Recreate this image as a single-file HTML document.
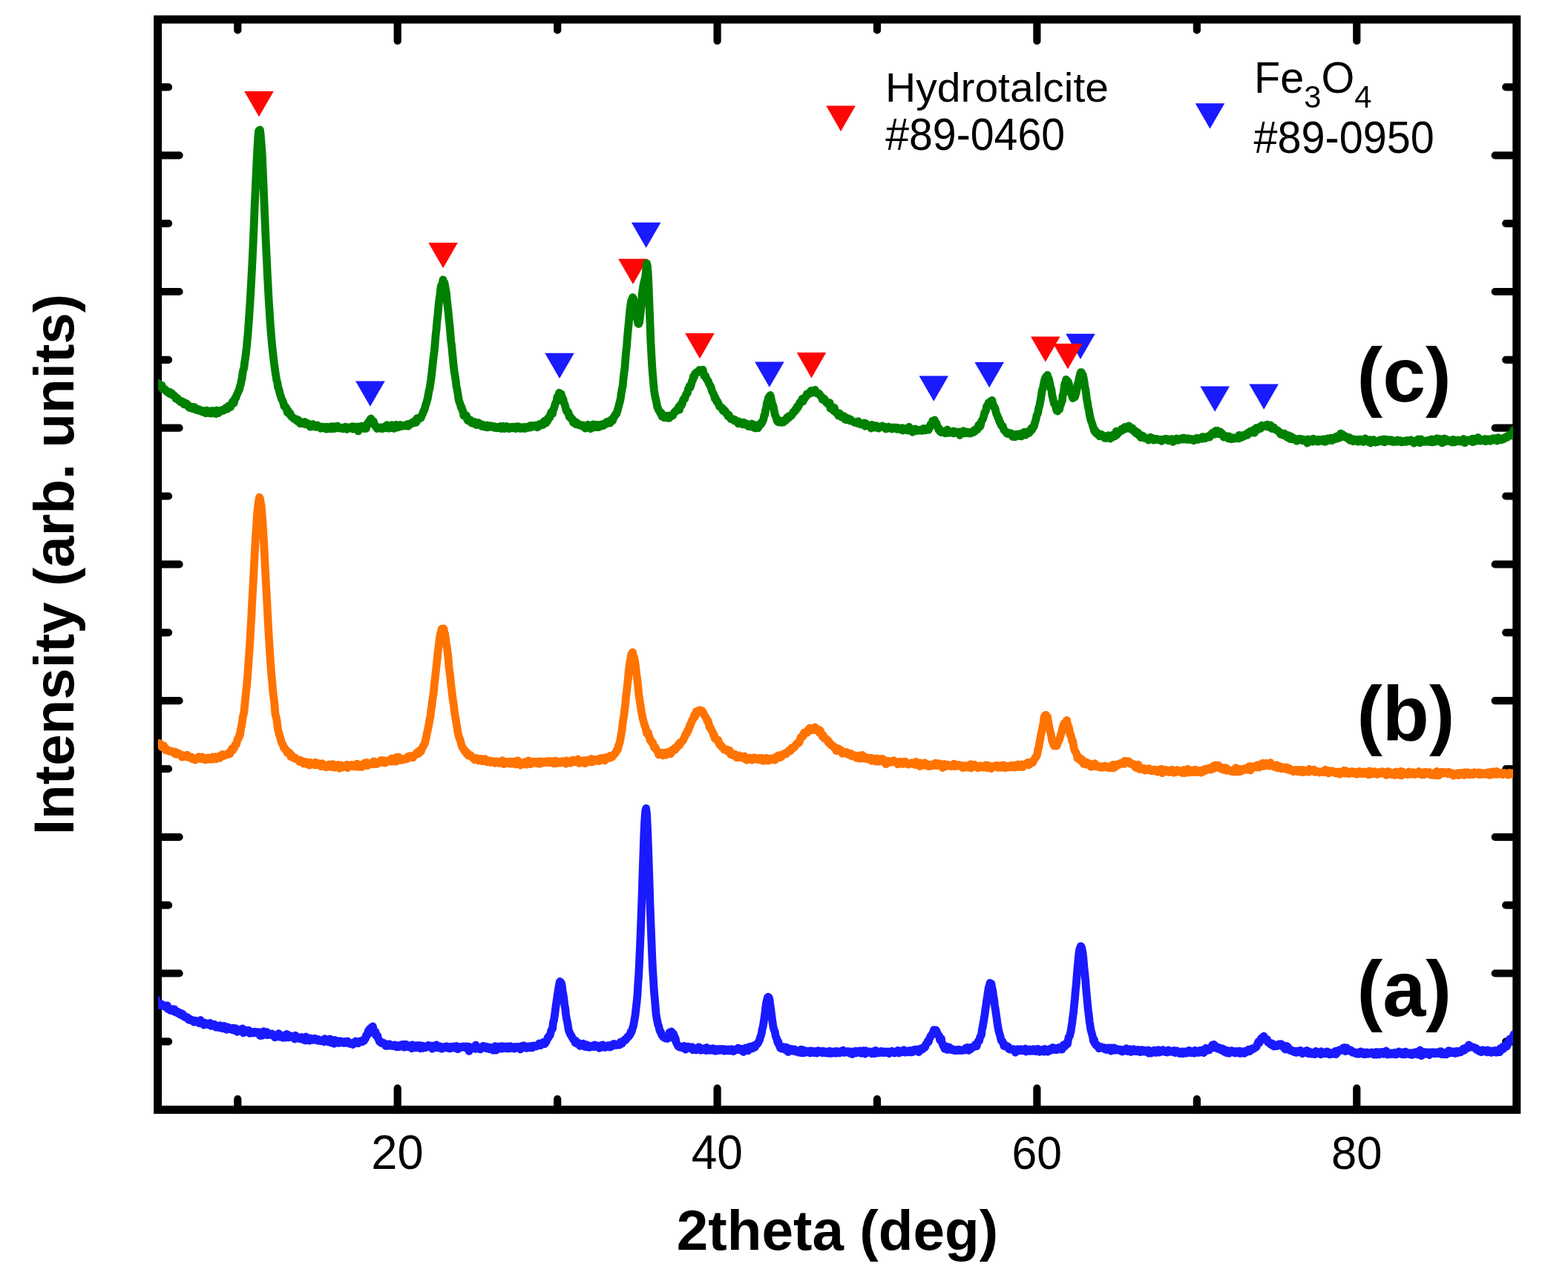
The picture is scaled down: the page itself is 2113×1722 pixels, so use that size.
<!DOCTYPE html><html><head><meta charset="utf-8"><title>XRD patterns</title><style>html,body{margin:0;padding:0;background:#fff;overflow:hidden}svg{display:block}text{font-family:"Liberation Sans",Arial,sans-serif}</style></head><body>
<svg width="2113" height="1722" viewBox="0 0 2113 1722">
<rect width="2113" height="1722" fill="#fff"/>
<polygon points="479.1,513.5 518.7,513.5 498.9,547.8" fill="#1a1aff"/>
<polygon points="734.2,475.7 773.8,475.7 754.0,510.0" fill="#1a1aff"/>
<polygon points="850.9,299.8 890.5,299.8 870.7,334.1" fill="#1a1aff"/>
<polygon points="1017.1,487.5 1056.7,487.5 1036.9,521.8" fill="#1a1aff"/>
<polygon points="1238.5,506.4 1278.1,506.4 1258.3,540.7" fill="#1a1aff"/>
<polygon points="1313.4,487.9 1353.0,487.9 1333.2,522.2" fill="#1a1aff"/>
<polygon points="1436.2,449.8 1475.8,449.8 1456.0,484.1" fill="#1a1aff"/>
<polygon points="1617.4,520.4 1657.0,520.4 1637.2,554.7" fill="#1a1aff"/>
<polygon points="1683.4,517.4 1723.0,517.4 1703.2,551.7" fill="#1a1aff"/>
<polygon points="329.2,123.0 368.8,123.0 349.0,157.3" fill="#ff0606"/>
<polygon points="577.3,326.9 616.9,326.9 597.1,361.2" fill="#ff0606"/>
<polygon points="833.2,348.8 872.8,348.8 853.0,383.1" fill="#ff0606"/>
<polygon points="923.2,448.9 962.8,448.9 943.0,483.2" fill="#ff0606"/>
<polygon points="1073.7,475.1 1113.3,475.1 1093.5,509.4" fill="#ff0606"/>
<polygon points="1389.0,453.5 1428.6,453.5 1408.8,487.8" fill="#ff0606"/>
<polygon points="1419.2,462.9 1458.8,462.9 1439.0,497.2" fill="#ff0606"/>
<rect x="212.6" y="26.2" width="1831.2" height="1469.1" fill="none" stroke="#000" stroke-width="11" stroke-linejoin="miter"/>
<path d="M320.3 1495.3V1480.8M320.3 26.2V40.7M535.7 1495.3V1466.3M535.7 26.2V55.2M751.2 1495.3V1480.8M751.2 26.2V40.7M966.6 1495.3V1466.3M966.6 26.2V55.2M1182.0 1495.3V1480.8M1182.0 26.2V40.7M1397.4 1495.3V1466.3M1397.4 26.2V55.2M1612.9 1495.3V1480.8M1612.9 26.2V40.7M1828.3 1495.3V1466.3M1828.3 26.2V55.2M212.6 117.4H227.1M2043.7 117.4H2029.2M212.6 209.3H241.6M2043.7 209.3H2014.7M212.6 301.1H227.1M2043.7 301.1H2029.2M212.6 393.0H241.6M2043.7 393.0H2014.7M212.6 484.8H227.1M2043.7 484.8H2029.2M212.6 576.7H241.6M2043.7 576.7H2014.7M212.6 668.5H227.1M2043.7 668.5H2029.2M212.6 760.4H241.6M2043.7 760.4H2014.7M212.6 852.3H227.1M2043.7 852.3H2029.2M212.6 944.1H241.6M2043.7 944.1H2014.7M212.6 1036.0H227.1M2043.7 1036.0H2029.2M212.6 1127.8H241.6M2043.7 1127.8H2014.7M212.6 1219.7H227.1M2043.7 1219.7H2029.2M212.6 1311.5H241.6M2043.7 1311.5H2014.7M212.6 1403.4H227.1M2043.7 1403.4H2029.2" stroke="#000" stroke-width="10.2" stroke-linecap="round" fill="none"/>
<defs><clipPath id="pc"><rect x="213" y="0" width="1826" height="1722"/></clipPath></defs>
<polyline fill="none" stroke="#008000" stroke-width="10.8" stroke-linejoin="round" stroke-linecap="butt" clip-path="url(#pc)" points="210.0,514.3 210.9,516.7 211.8,517.3 212.7,516.1 213.6,517.1 214.5,517.6 215.4,519.7 216.3,519.8 217.2,521.5 218.1,519.1 219.0,524.0 219.9,522.8 220.8,524.5 221.7,524.2 222.6,524.7 223.5,526.4 224.4,527.6 225.3,527.1 226.2,527.8 227.1,529.6 228.0,528.4 228.9,528.3 229.8,531.3 230.7,530.7 231.6,529.9 232.5,531.8 233.4,532.9 234.3,532.7 235.2,533.0 236.1,535.4 237.0,537.1 237.9,536.4 238.8,536.4 239.7,538.4 240.6,539.4 241.5,538.8 242.4,540.5 243.3,541.7 244.2,540.8 245.1,540.7 246.0,542.7 246.9,543.2 247.8,544.8 248.7,542.5 249.6,543.8 250.5,544.1 251.4,543.6 252.3,546.3 253.2,547.3 254.1,546.3 255.0,549.3 255.9,549.1 256.8,549.3 257.7,549.4 258.6,550.5 259.5,548.1 260.4,550.8 261.3,551.1 262.2,548.6 263.1,551.5 264.0,551.1 264.9,552.6 265.8,551.4 266.7,552.2 267.6,552.9 268.5,551.7 269.4,553.7 270.3,553.1 271.2,554.1 272.1,553.1 273.0,555.2 273.9,554.8 274.8,554.1 275.7,555.2 276.6,556.1 277.5,556.9 278.4,553.0 279.3,556.1 280.2,555.7 281.1,555.1 282.0,554.1 282.9,556.8 283.8,553.9 284.7,556.1 285.6,557.0 286.5,553.5 287.4,555.0 288.3,553.8 289.2,555.6 290.1,557.1 291.0,557.6 291.9,552.9 292.8,554.2 293.7,555.6 294.6,556.5 295.5,554.9 296.4,553.3 297.3,554.3 298.2,553.7 299.1,553.2 300.0,552.2 300.9,553.2 301.8,552.7 302.7,551.8 303.6,551.2 304.5,549.4 305.4,549.8 306.3,551.2 307.2,548.9 308.1,546.7 309.0,549.2 309.9,547.4 310.8,548.4 311.7,545.0 312.6,543.3 313.5,540.9 314.4,543.0 315.3,543.1 316.2,537.6 317.1,536.2 318.0,535.9 318.9,532.3 319.8,530.9 320.7,528.5 321.6,526.6 322.5,524.9 323.4,520.6 324.3,518.4 325.2,513.1 326.1,510.0 327.0,502.5 327.9,498.4 328.8,495.6 329.7,487.9 330.6,482.5 331.5,475.0 332.4,467.6 333.3,457.8 334.2,447.9 335.1,435.4 336.0,422.3 336.9,408.6 337.8,394.1 338.7,377.1 339.6,360.2 340.5,341.9 341.4,322.4 342.3,300.7 343.2,277.3 344.1,257.9 345.0,237.3 345.9,218.8 346.8,201.1 347.7,186.0 348.6,176.6 349.5,175.5 350.4,175.0 351.3,182.6 352.2,194.1 353.1,205.7 354.0,225.3 354.9,245.8 355.8,267.4 356.7,289.2 357.6,310.4 358.5,331.2 359.4,349.1 360.3,369.3 361.2,385.9 362.1,403.0 363.0,416.9 363.9,431.6 364.8,444.1 365.7,454.5 366.6,464.6 367.5,473.4 368.4,481.0 369.3,488.7 370.2,495.1 371.1,502.2 372.0,507.3 372.9,513.0 373.8,515.2 374.7,522.0 375.6,523.8 376.5,527.3 377.4,531.1 378.3,533.6 379.2,537.3 380.1,538.7 381.0,540.4 381.9,542.7 382.8,547.3 383.7,547.6 384.6,547.8 385.5,550.8 386.4,550.4 387.3,555.8 388.2,553.1 389.1,556.7 390.0,557.9 390.9,556.6 391.8,559.7 392.7,561.4 393.6,561.7 394.5,562.3 395.4,563.9 396.3,563.7 397.2,564.6 398.1,564.7 399.0,566.3 399.9,565.0 400.8,567.6 401.7,566.6 402.6,566.4 403.5,568.6 404.4,570.6 405.3,570.2 406.2,568.8 407.1,570.7 408.0,569.6 408.9,570.4 409.8,571.0 410.7,568.4 411.6,571.7 412.5,570.5 413.4,571.2 414.3,570.5 415.2,570.7 416.1,571.6 417.0,573.9 417.9,575.1 418.8,573.3 419.7,574.8 420.6,573.4 421.5,571.5 422.4,574.2 423.3,574.7 424.2,573.8 425.1,574.8 426.0,575.2 426.9,573.6 427.8,573.0 428.7,574.6 429.6,574.7 430.5,574.6 431.4,576.3 432.3,577.3 433.2,574.8 434.1,576.2 435.0,576.6 435.9,576.4 436.8,576.8 437.7,575.2 438.6,576.6 439.5,578.2 440.4,576.8 441.3,575.1 442.2,576.6 443.1,577.5 444.0,576.4 444.9,575.3 445.8,577.9 446.7,574.6 447.6,576.7 448.5,576.1 449.4,574.7 450.3,577.6 451.2,576.6 452.1,574.8 453.0,577.0 453.9,575.8 454.8,574.0 455.7,575.5 456.6,576.6 457.5,577.1 458.4,576.6 459.3,576.4 460.2,577.0 461.1,576.2 462.0,577.8 462.9,576.6 463.8,576.8 464.7,577.1 465.6,575.2 466.5,575.7 467.4,578.4 468.3,576.9 469.2,576.2 470.1,577.0 471.0,576.0 471.9,576.9 472.8,575.8 473.7,577.0 474.6,574.7 475.5,578.2 476.4,576.0 477.3,574.8 478.2,576.4 479.1,576.2 480.0,576.8 480.9,575.2 481.8,577.1 482.7,580.9 483.6,575.0 484.5,576.9 485.4,576.0 486.3,576.6 487.2,574.1 488.1,574.8 489.0,576.6 489.9,575.8 490.8,577.5 491.7,574.3 492.6,574.8 493.5,577.3 494.4,571.9 495.3,570.4 496.2,569.8 497.1,567.9 498.0,567.3 498.9,565.2 499.8,564.0 500.7,566.2 501.6,570.7 502.5,570.9 503.4,567.7 504.3,572.3 505.2,572.4 506.1,575.0 507.0,574.6 507.9,577.5 508.8,576.6 509.7,576.7 510.6,576.0 511.5,575.8 512.4,576.3 513.3,577.5 514.2,576.6 515.1,575.6 516.0,577.6 516.9,576.3 517.8,575.9 518.7,575.0 519.6,575.3 520.5,575.2 521.4,572.6 522.3,577.1 523.2,576.5 524.1,575.5 525.0,577.0 525.9,576.2 526.8,576.1 527.7,572.6 528.6,575.2 529.5,576.0 530.4,577.2 531.3,577.4 532.2,576.9 533.1,573.7 534.0,572.3 534.9,575.5 535.8,574.8 536.7,575.8 537.6,574.4 538.5,574.6 539.4,572.4 540.3,574.6 541.2,573.4 542.1,574.2 543.0,574.2 543.9,573.3 544.8,573.7 545.7,573.1 546.6,573.8 547.5,573.3 548.4,571.8 549.3,571.5 550.2,574.1 551.1,571.6 552.0,572.6 552.9,571.6 553.8,570.1 554.7,569.6 555.6,570.2 556.5,570.0 557.4,570.0 558.3,567.3 559.2,567.6 560.1,567.7 561.0,569.1 561.9,563.7 562.8,566.4 563.7,564.4 564.6,564.7 565.5,562.6 566.4,562.6 567.3,562.8 568.2,560.0 569.1,558.5 570.0,556.7 570.9,553.4 571.8,552.7 572.7,549.3 573.6,545.7 574.5,543.5 575.4,539.8 576.3,537.0 577.2,531.7 578.1,526.4 579.0,523.5 579.9,517.2 580.8,511.3 581.7,503.8 582.6,495.7 583.5,487.6 584.4,479.6 585.3,472.6 586.2,462.7 587.1,451.6 588.0,444.1 588.9,433.0 589.8,425.7 590.7,415.0 591.6,406.4 592.5,400.2 593.4,393.0 594.3,385.3 595.2,383.8 596.1,382.6 597.0,377.0 597.9,381.5 598.8,380.7 599.7,384.8 600.6,390.4 601.5,395.4 602.4,406.2 603.3,413.6 604.2,420.9 605.1,430.7 606.0,438.5 606.9,449.3 607.8,460.0 608.7,465.9 609.6,476.1 610.5,485.1 611.4,494.0 612.3,501.8 613.2,506.5 614.1,512.6 615.0,520.0 615.9,524.5 616.8,529.5 617.7,535.7 618.6,540.5 619.5,542.5 620.4,545.2 621.3,549.1 622.2,548.8 623.1,553.3 624.0,554.1 624.9,560.1 625.8,559.8 626.7,560.5 627.6,561.4 628.5,559.7 629.4,564.6 630.3,566.6 631.2,564.6 632.1,567.1 633.0,567.8 633.9,565.7 634.8,569.2 635.7,570.2 636.6,569.3 637.5,569.4 638.4,570.8 639.3,568.4 640.2,570.7 641.1,572.2 642.0,569.7 642.9,572.7 643.8,571.3 644.7,569.5 645.6,572.1 646.5,571.3 647.4,573.1 648.3,571.5 649.2,574.4 650.1,572.4 651.0,573.9 651.9,572.9 652.8,573.4 653.7,575.4 654.6,574.3 655.5,573.7 656.4,572.8 657.3,575.9 658.2,575.5 659.1,574.3 660.0,575.1 660.9,573.7 661.8,573.8 662.7,574.1 663.6,575.6 664.5,575.6 665.4,574.4 666.3,576.3 667.2,576.4 668.1,575.7 669.0,576.8 669.9,575.3 670.8,575.6 671.7,576.3 672.6,575.8 673.5,576.8 674.4,574.4 675.3,577.6 676.2,575.0 677.1,575.8 678.0,574.4 678.9,576.8 679.8,577.6 680.7,577.4 681.6,577.1 682.5,574.3 683.4,575.2 684.3,575.6 685.2,575.1 686.1,577.6 687.0,576.5 687.9,576.2 688.8,576.8 689.7,575.1 690.6,575.2 691.5,575.2 692.4,576.9 693.3,576.7 694.2,577.0 695.1,577.5 696.0,574.6 696.9,575.6 697.8,576.4 698.7,574.6 699.6,575.6 700.5,577.4 701.4,577.5 702.3,577.4 703.2,576.1 704.1,575.8 705.0,577.3 705.9,575.5 706.8,576.3 707.7,577.5 708.6,575.4 709.5,575.1 710.4,575.7 711.3,576.4 712.2,576.2 713.1,575.7 714.0,576.1 714.9,573.4 715.8,574.2 716.7,575.3 717.6,573.9 718.5,573.3 719.4,573.3 720.3,573.5 721.2,574.2 722.1,573.0 723.0,574.3 723.9,575.9 724.8,573.4 725.7,574.9 726.6,573.4 727.5,571.4 728.4,572.1 729.3,570.9 730.2,572.6 731.1,569.8 732.0,572.3 732.9,570.9 733.8,567.2 734.7,569.9 735.6,570.1 736.5,566.5 737.4,567.8 738.3,563.4 739.2,564.8 740.1,561.3 741.0,562.5 741.9,558.2 742.8,555.5 743.7,557.3 744.6,557.5 745.5,551.7 746.4,551.0 747.3,547.5 748.2,544.2 749.1,542.5 750.0,540.9 750.9,534.9 751.8,534.7 752.7,532.6 753.6,529.2 754.5,532.4 755.4,533.1 756.3,530.7 757.2,535.7 758.1,535.9 759.0,538.2 759.9,543.0 760.8,544.3 761.7,547.2 762.6,551.4 763.5,553.6 764.4,555.4 765.3,554.8 766.2,556.5 767.1,561.5 768.0,560.6 768.9,563.3 769.8,563.1 770.7,565.3 771.6,565.0 772.5,569.4 773.4,567.0 774.3,568.8 775.2,569.4 776.1,571.7 777.0,569.1 777.9,571.2 778.8,571.4 779.7,572.7 780.6,573.0 781.5,572.2 782.4,573.3 783.3,572.9 784.2,574.1 785.1,573.6 786.0,573.1 786.9,574.1 787.8,574.7 788.7,577.1 789.6,573.9 790.5,574.9 791.4,576.4 792.3,572.2 793.2,572.7 794.1,573.4 795.0,574.7 795.9,577.7 796.8,575.3 797.7,576.2 798.6,574.5 799.5,571.8 800.4,571.9 801.3,575.8 802.2,574.7 803.1,572.9 804.0,575.7 804.9,572.3 805.8,575.4 806.7,575.7 807.6,572.9 808.5,572.3 809.4,574.4 810.3,571.9 811.2,574.0 812.1,571.3 813.0,573.5 813.9,572.3 814.8,571.4 815.7,570.5 816.6,571.5 817.5,568.5 818.4,570.0 819.3,569.4 820.2,570.2 821.1,567.3 822.0,570.2 822.9,567.1 823.8,565.3 824.7,567.4 825.6,566.8 826.5,563.5 827.4,561.4 828.3,561.1 829.2,558.6 830.1,557.2 831.0,557.4 831.9,553.6 832.8,550.6 833.7,547.7 834.6,543.6 835.5,540.7 836.4,536.1 837.3,529.5 838.2,524.3 839.1,520.7 840.0,511.3 840.9,502.8 841.8,497.2 842.7,485.7 843.6,474.9 844.5,467.0 845.4,454.9 846.3,445.1 847.2,436.0 848.1,426.0 849.0,416.8 849.9,410.0 850.8,404.7 851.7,403.8 852.6,400.7 853.5,402.2 854.4,408.6 855.3,410.2 856.2,418.3 857.1,424.1 858.0,427.9 858.9,430.9 859.8,435.8 860.7,436.4 861.6,434.2 862.5,427.4 863.4,420.2 864.3,409.8 865.2,396.2 866.1,390.7 867.0,384.2 867.9,380.3 868.8,376.8 869.7,373.1 870.6,364.2 871.5,354.9 872.4,358.1 873.3,368.6 874.2,388.2 875.1,411.9 876.0,435.3 876.9,460.2 877.8,476.9 878.7,493.0 879.6,505.2 880.5,515.2 881.4,525.1 882.3,531.4 883.2,535.6 884.1,539.7 885.0,544.0 885.9,548.9 886.8,550.5 887.7,552.8 888.6,554.0 889.5,555.7 890.4,557.6 891.3,556.2 892.2,561.3 893.1,559.1 894.0,560.0 894.9,562.8 895.8,561.8 896.7,561.9 897.6,561.3 898.5,560.2 899.4,562.2 900.3,563.4 901.2,560.7 902.1,563.1 903.0,559.8 903.9,559.9 904.8,560.9 905.7,559.7 906.6,560.0 907.5,557.6 908.4,556.5 909.3,554.6 910.2,554.5 911.1,553.7 912.0,552.3 912.9,553.3 913.8,550.9 914.7,548.1 915.6,552.2 916.5,546.8 917.4,544.8 918.3,546.3 919.2,544.6 920.1,540.2 921.0,538.1 921.9,536.8 922.8,537.5 923.7,533.9 924.6,531.3 925.5,530.2 926.4,529.6 927.3,524.4 928.2,523.5 929.1,520.2 930.0,522.3 930.9,519.7 931.8,516.6 932.7,513.2 933.6,512.2 934.5,507.0 935.4,508.0 936.3,504.4 937.2,502.9 938.1,502.3 939.0,501.5 939.9,501.7 940.8,501.1 941.7,500.0 942.6,498.3 943.5,500.2 944.4,499.4 945.3,501.4 946.2,499.5 947.1,498.2 948.0,502.0 948.9,506.4 949.8,505.8 950.7,506.6 951.6,509.6 952.5,510.9 953.4,512.8 954.3,513.6 955.2,516.3 956.1,518.4 957.0,519.5 957.9,521.0 958.8,524.5 959.7,527.5 960.6,529.1 961.5,530.9 962.4,532.8 963.3,537.2 964.2,536.2 965.1,538.9 966.0,541.7 966.9,541.1 967.8,542.9 968.7,545.4 969.6,547.6 970.5,547.4 971.4,548.8 972.3,549.8 973.2,549.5 974.1,553.4 975.0,552.9 975.9,552.3 976.8,555.2 977.7,554.3 978.6,556.1 979.5,558.2 980.4,557.9 981.3,561.1 982.2,558.9 983.1,561.7 984.0,562.7 984.9,564.5 985.8,564.5 986.7,564.3 987.6,564.7 988.5,565.1 989.4,567.0 990.3,565.4 991.2,567.3 992.1,567.0 993.0,567.8 993.9,567.7 994.8,570.9 995.7,568.0 996.6,569.4 997.5,569.8 998.4,570.6 999.3,570.7 1000.2,571.0 1001.1,571.9 1002.0,569.2 1002.9,571.3 1003.8,570.1 1004.7,572.1 1005.6,570.6 1006.5,571.1 1007.4,572.4 1008.3,574.4 1009.2,573.6 1010.1,573.4 1011.0,574.9 1011.9,572.2 1012.8,571.0 1013.7,573.1 1014.6,573.4 1015.5,575.3 1016.4,576.5 1017.3,572.4 1018.2,577.0 1019.1,575.9 1020.0,575.0 1020.9,574.3 1021.8,576.6 1022.7,573.5 1023.6,572.4 1024.5,572.5 1025.4,569.8 1026.3,570.8 1027.2,568.5 1028.1,566.9 1029.0,564.3 1029.9,559.5 1030.8,558.7 1031.7,551.9 1032.6,549.9 1033.5,542.7 1034.4,541.1 1035.3,536.5 1036.2,535.3 1037.1,533.7 1038.0,532.5 1038.9,535.7 1039.8,540.2 1040.7,544.6 1041.6,546.0 1042.5,549.2 1043.4,554.5 1044.3,558.6 1045.2,560.9 1046.1,563.0 1047.0,566.8 1047.9,568.2 1048.8,568.8 1049.7,567.4 1050.6,568.8 1051.5,568.5 1052.4,566.9 1053.3,569.4 1054.2,568.1 1055.1,567.0 1056.0,568.8 1056.9,567.5 1057.8,567.0 1058.7,566.8 1059.6,565.5 1060.5,562.5 1061.4,562.8 1062.3,563.6 1063.2,560.7 1064.1,560.8 1065.0,560.3 1065.9,560.6 1066.8,559.5 1067.7,558.0 1068.6,555.7 1069.5,555.9 1070.4,554.4 1071.3,552.4 1072.2,553.1 1073.1,550.9 1074.0,548.2 1074.9,549.5 1075.8,546.4 1076.7,546.2 1077.6,542.5 1078.5,543.1 1079.4,540.8 1080.3,539.5 1081.2,537.2 1082.1,540.9 1083.0,537.1 1083.9,536.5 1084.8,536.5 1085.7,534.0 1086.6,533.8 1087.5,530.7 1088.4,531.8 1089.3,530.3 1090.2,530.8 1091.1,529.8 1092.0,527.5 1092.9,526.5 1093.8,527.3 1094.7,529.2 1095.6,528.7 1096.5,528.7 1097.4,525.9 1098.3,525.3 1099.2,528.1 1100.1,528.9 1101.0,529.0 1101.9,530.7 1102.8,530.7 1103.7,530.2 1104.6,531.3 1105.5,533.3 1106.4,534.1 1107.3,534.8 1108.2,538.5 1109.1,536.4 1110.0,537.8 1110.9,537.4 1111.8,539.2 1112.7,541.3 1113.6,542.3 1114.5,542.4 1115.4,544.1 1116.3,544.7 1117.2,543.3 1118.1,542.6 1119.0,550.3 1119.9,549.4 1120.8,549.3 1121.7,548.2 1122.6,549.6 1123.5,553.6 1124.4,549.5 1125.3,553.2 1126.2,555.5 1127.1,555.4 1128.0,556.8 1128.9,556.5 1129.8,560.2 1130.7,556.8 1131.6,557.1 1132.5,559.6 1133.4,561.6 1134.3,560.5 1135.2,562.3 1136.1,561.0 1137.0,560.7 1137.9,564.3 1138.8,565.0 1139.7,565.5 1140.6,563.6 1141.5,563.1 1142.4,563.6 1143.3,565.1 1144.2,566.5 1145.1,566.8 1146.0,564.8 1146.9,567.1 1147.8,567.2 1148.7,567.7 1149.6,567.9 1150.5,568.0 1151.4,569.2 1152.3,569.0 1153.2,569.4 1154.1,568.6 1155.0,570.1 1155.9,569.7 1156.8,567.6 1157.7,571.0 1158.6,570.3 1159.5,571.9 1160.4,570.8 1161.3,571.1 1162.2,571.7 1163.1,571.6 1164.0,571.3 1164.9,569.8 1165.8,574.3 1166.7,570.4 1167.6,572.1 1168.5,573.4 1169.4,573.2 1170.3,573.6 1171.2,574.0 1172.1,574.7 1173.0,573.7 1173.9,577.0 1174.8,572.4 1175.7,574.0 1176.6,573.4 1177.5,573.3 1178.4,574.5 1179.3,576.0 1180.2,573.5 1181.1,573.6 1182.0,575.5 1182.9,575.4 1183.8,577.2 1184.7,576.2 1185.6,575.3 1186.5,574.8 1187.4,575.5 1188.3,575.2 1189.2,573.8 1190.1,575.6 1191.0,575.5 1191.9,575.5 1192.8,575.4 1193.7,578.0 1194.6,576.9 1195.5,577.3 1196.4,575.5 1197.3,575.1 1198.2,576.1 1199.1,576.8 1200.0,576.2 1200.9,576.5 1201.8,578.0 1202.7,577.3 1203.6,575.8 1204.5,576.6 1205.4,576.4 1206.3,577.5 1207.2,576.0 1208.1,577.3 1209.0,578.4 1209.9,577.7 1210.8,576.6 1211.7,577.1 1212.6,578.0 1213.5,578.6 1214.4,579.1 1215.3,578.0 1216.2,576.6 1217.1,580.0 1218.0,578.7 1218.9,578.9 1219.8,578.9 1220.7,577.4 1221.6,578.3 1222.5,579.1 1223.4,580.1 1224.3,579.0 1225.2,575.2 1226.1,578.8 1227.0,579.5 1227.9,580.7 1228.8,580.1 1229.7,582.3 1230.6,581.1 1231.5,581.0 1232.4,580.6 1233.3,577.9 1234.2,580.6 1235.1,580.3 1236.0,579.0 1236.9,580.4 1237.8,580.2 1238.7,579.2 1239.6,579.6 1240.5,579.5 1241.4,580.1 1242.3,579.3 1243.2,580.4 1244.1,577.4 1245.0,579.3 1245.9,577.5 1246.8,578.8 1247.7,579.8 1248.6,579.0 1249.5,578.4 1250.4,578.1 1251.3,579.2 1252.2,575.0 1253.1,576.2 1254.0,571.8 1254.9,571.3 1255.8,570.2 1256.7,567.2 1257.6,567.2 1258.5,567.5 1259.4,566.0 1260.3,568.9 1261.2,570.5 1262.1,570.6 1263.0,574.5 1263.9,575.3 1264.8,579.1 1265.7,577.5 1266.6,581.4 1267.5,579.3 1268.4,582.7 1269.3,581.4 1270.2,581.6 1271.1,582.3 1272.0,582.6 1272.9,583.4 1273.8,583.9 1274.7,581.6 1275.6,580.6 1276.5,579.0 1277.4,581.9 1278.3,583.3 1279.2,583.0 1280.1,582.8 1281.0,582.3 1281.9,582.0 1282.8,582.5 1283.7,583.4 1284.6,580.9 1285.5,583.9 1286.4,581.4 1287.3,583.0 1288.2,582.5 1289.1,582.8 1290.0,582.1 1290.9,582.0 1291.8,583.1 1292.7,582.1 1293.6,586.4 1294.5,583.0 1295.4,582.7 1296.3,582.9 1297.2,582.3 1298.1,580.6 1299.0,583.2 1299.9,583.9 1300.8,581.7 1301.7,583.5 1302.6,582.0 1303.5,583.4 1304.4,583.8 1305.3,583.8 1306.2,583.7 1307.1,582.2 1308.0,583.9 1308.9,582.1 1309.8,582.8 1310.7,582.9 1311.6,581.4 1312.5,579.8 1313.4,581.6 1314.3,578.9 1315.2,578.4 1316.1,577.4 1317.0,578.7 1317.9,576.4 1318.8,572.7 1319.7,574.9 1320.6,574.9 1321.5,572.8 1322.4,568.0 1323.3,566.7 1324.2,565.0 1325.1,563.0 1326.0,559.5 1326.9,555.5 1327.8,555.1 1328.7,552.3 1329.6,547.4 1330.5,546.2 1331.4,544.8 1332.3,542.6 1333.2,541.9 1334.1,541.3 1335.0,540.7 1335.9,540.1 1336.8,539.4 1337.7,543.1 1338.6,545.9 1339.5,548.7 1340.4,548.7 1341.3,551.3 1342.2,555.8 1343.1,558.5 1344.0,559.9 1344.9,563.0 1345.8,563.8 1346.7,567.8 1347.6,568.4 1348.5,571.3 1349.4,573.2 1350.3,574.5 1351.2,574.1 1352.1,577.1 1353.0,579.7 1353.9,580.3 1354.8,580.9 1355.7,582.7 1356.6,583.7 1357.5,584.5 1358.4,583.0 1359.3,584.5 1360.2,584.4 1361.1,584.1 1362.0,583.6 1362.9,585.5 1363.8,584.7 1364.7,588.5 1365.6,586.0 1366.5,585.9 1367.4,585.8 1368.3,588.6 1369.2,585.2 1370.1,586.2 1371.0,585.4 1371.9,586.2 1372.8,586.3 1373.7,587.6 1374.6,584.5 1375.5,586.1 1376.4,587.9 1377.3,585.2 1378.2,585.5 1379.1,584.5 1380.0,582.2 1380.9,584.9 1381.8,586.2 1382.7,583.9 1383.6,581.9 1384.5,584.0 1385.4,583.2 1386.3,583.7 1387.2,582.9 1388.1,580.7 1389.0,580.6 1389.9,576.8 1390.8,579.0 1391.7,576.4 1392.6,575.8 1393.5,573.9 1394.4,570.0 1395.3,567.7 1396.2,564.1 1397.1,559.5 1398.0,558.4 1398.9,555.1 1399.8,549.6 1400.7,547.4 1401.6,542.2 1402.5,537.9 1403.4,531.7 1404.3,525.7 1405.2,524.1 1406.1,519.6 1407.0,514.8 1407.9,511.2 1408.8,508.9 1409.7,507.5 1410.6,506.6 1411.5,505.4 1412.4,510.4 1413.3,510.1 1414.2,514.7 1415.1,518.4 1416.0,523.1 1416.9,525.0 1417.8,532.6 1418.7,536.0 1419.6,540.0 1420.5,544.0 1421.4,544.7 1422.3,544.5 1423.2,550.7 1424.1,553.4 1425.0,554.1 1425.9,552.2 1426.8,552.2 1427.7,551.4 1428.6,546.8 1429.5,545.4 1430.4,541.9 1431.3,540.3 1432.2,532.9 1433.1,530.4 1434.0,523.5 1434.9,516.7 1435.8,517.6 1436.7,511.3 1437.6,512.4 1438.5,514.7 1439.4,514.5 1440.3,517.1 1441.2,523.7 1442.1,526.3 1443.0,528.3 1443.9,531.2 1444.8,534.0 1445.7,536.7 1446.6,535.3 1447.5,535.6 1448.4,535.1 1449.3,532.1 1450.2,529.1 1451.1,525.1 1452.0,517.7 1452.9,516.9 1453.8,511.8 1454.7,507.8 1455.6,503.9 1456.5,501.6 1457.4,501.7 1458.3,504.0 1459.2,505.0 1460.1,509.0 1461.0,513.7 1461.9,520.5 1462.8,525.0 1463.7,531.0 1464.6,538.6 1465.5,542.3 1466.4,548.8 1467.3,551.9 1468.2,558.2 1469.1,562.2 1470.0,566.0 1470.9,568.6 1471.8,570.9 1472.7,574.4 1473.6,576.4 1474.5,580.1 1475.4,581.6 1476.3,580.4 1477.2,583.8 1478.1,583.4 1479.0,585.4 1479.9,584.9 1480.8,584.3 1481.7,587.8 1482.6,587.6 1483.5,585.9 1484.4,585.4 1485.3,587.3 1486.2,586.8 1487.1,587.9 1488.0,589.2 1488.9,590.4 1489.8,588.2 1490.7,590.4 1491.6,590.1 1492.5,588.2 1493.4,586.6 1494.3,589.5 1495.2,589.1 1496.1,591.0 1497.0,589.7 1497.9,588.7 1498.8,589.5 1499.7,585.9 1500.6,587.0 1501.5,586.0 1502.4,587.9 1503.3,586.0 1504.2,581.1 1505.1,585.8 1506.0,582.5 1506.9,583.8 1507.8,581.6 1508.7,581.7 1509.6,581.5 1510.5,580.2 1511.4,578.0 1512.3,580.1 1513.2,578.2 1514.1,577.0 1515.0,577.3 1515.9,575.3 1516.8,577.8 1517.7,575.5 1518.6,575.5 1519.5,575.4 1520.4,574.0 1521.3,573.9 1522.2,575.9 1523.1,576.6 1524.0,578.4 1524.9,577.9 1525.8,576.8 1526.7,579.5 1527.6,580.6 1528.5,581.7 1529.4,581.7 1530.3,580.6 1531.2,584.2 1532.1,582.7 1533.0,585.0 1533.9,583.1 1534.8,586.5 1535.7,585.3 1536.6,588.1 1537.5,589.5 1538.4,589.2 1539.3,586.9 1540.2,587.6 1541.1,588.0 1542.0,590.2 1542.9,590.2 1543.8,590.2 1544.7,590.7 1545.6,591.2 1546.5,591.5 1547.4,593.0 1548.3,591.0 1549.2,591.5 1550.1,589.1 1551.0,589.9 1551.9,590.8 1552.8,590.3 1553.7,592.0 1554.6,593.1 1555.5,591.4 1556.4,591.4 1557.3,591.4 1558.2,592.2 1559.1,591.4 1560.0,592.6 1560.9,592.5 1561.8,592.6 1562.7,593.1 1563.6,592.2 1564.5,592.4 1565.4,594.4 1566.3,592.2 1567.2,593.2 1568.1,592.3 1569.0,591.7 1569.9,591.7 1570.8,591.3 1571.7,592.3 1572.6,591.6 1573.5,591.8 1574.4,593.8 1575.3,592.1 1576.2,593.7 1577.1,592.6 1578.0,593.3 1578.9,591.5 1579.8,592.5 1580.7,595.4 1581.6,593.3 1582.5,593.5 1583.4,592.5 1584.3,593.3 1585.2,590.8 1586.1,591.2 1587.0,592.7 1587.9,593.2 1588.8,591.7 1589.7,592.0 1590.6,591.7 1591.5,591.9 1592.4,590.7 1593.3,590.4 1594.2,592.0 1595.1,590.0 1596.0,590.9 1596.9,591.3 1597.8,590.8 1598.7,592.4 1599.6,591.5 1600.5,591.9 1601.4,590.8 1602.3,591.1 1603.2,592.6 1604.1,592.4 1605.0,591.4 1605.9,592.4 1606.8,592.1 1607.7,592.0 1608.6,593.7 1609.5,591.3 1610.4,592.2 1611.3,592.2 1612.2,591.4 1613.1,590.2 1614.0,592.4 1614.9,591.8 1615.8,591.4 1616.7,591.3 1617.6,591.2 1618.5,590.0 1619.4,591.3 1620.3,588.6 1621.2,590.6 1622.1,588.6 1623.0,589.8 1623.9,590.8 1624.8,589.3 1625.7,588.8 1626.6,589.6 1627.5,588.3 1628.4,587.7 1629.3,587.2 1630.2,589.0 1631.1,587.5 1632.0,586.7 1632.9,584.1 1633.8,585.6 1634.7,582.7 1635.6,584.3 1636.5,581.9 1637.4,585.1 1638.3,580.4 1639.2,583.8 1640.1,583.2 1641.0,580.3 1641.9,582.4 1642.8,584.8 1643.7,584.9 1644.6,582.0 1645.5,584.0 1646.4,583.7 1647.3,584.5 1648.2,585.5 1649.1,589.0 1650.0,587.4 1650.9,587.4 1651.8,587.6 1652.7,589.1 1653.6,589.5 1654.5,587.8 1655.4,590.9 1656.3,588.0 1657.2,589.1 1658.1,590.1 1659.0,591.7 1659.9,589.3 1660.8,590.0 1661.7,591.3 1662.6,590.4 1663.5,591.0 1664.4,590.8 1665.3,589.8 1666.2,590.1 1667.1,590.3 1668.0,589.0 1668.9,590.8 1669.8,586.3 1670.7,587.4 1671.6,590.0 1672.5,588.6 1673.4,587.0 1674.3,588.0 1675.2,588.5 1676.1,586.2 1677.0,587.5 1677.9,586.1 1678.8,585.7 1679.7,585.4 1680.6,586.4 1681.5,583.3 1682.4,583.7 1683.3,584.5 1684.2,581.8 1685.1,580.9 1686.0,583.0 1686.9,581.8 1687.8,581.1 1688.7,580.9 1689.6,579.0 1690.5,583.2 1691.4,578.0 1692.3,578.1 1693.2,576.4 1694.1,577.1 1695.0,578.9 1695.9,576.6 1696.8,576.9 1697.7,575.1 1698.6,577.5 1699.5,575.2 1700.4,573.1 1701.3,575.3 1702.2,573.7 1703.1,574.7 1704.0,574.0 1704.9,574.1 1705.8,573.9 1706.7,572.7 1707.6,572.1 1708.5,575.2 1709.4,574.1 1710.3,574.9 1711.2,574.3 1712.1,572.8 1713.0,574.1 1713.9,577.7 1714.8,575.6 1715.7,576.6 1716.6,575.8 1717.5,577.4 1718.4,578.2 1719.3,578.9 1720.2,579.7 1721.1,579.6 1722.0,580.2 1722.9,581.4 1723.8,582.4 1724.7,582.4 1725.6,585.2 1726.5,583.9 1727.4,584.3 1728.3,583.9 1729.2,586.4 1730.1,584.4 1731.0,584.2 1731.9,585.4 1732.8,587.7 1733.7,586.0 1734.6,589.3 1735.5,588.1 1736.4,586.7 1737.3,588.6 1738.2,591.3 1739.1,588.5 1740.0,588.2 1740.9,590.7 1741.8,591.9 1742.7,591.8 1743.6,590.4 1744.5,591.3 1745.4,591.6 1746.3,592.8 1747.2,594.2 1748.1,591.7 1749.0,593.5 1749.9,591.7 1750.8,592.9 1751.7,591.2 1752.6,591.6 1753.5,593.1 1754.4,591.6 1755.3,593.8 1756.2,592.2 1757.1,593.0 1758.0,592.9 1758.9,592.7 1759.8,593.3 1760.7,594.5 1761.6,597.0 1762.5,591.9 1763.4,593.7 1764.3,593.2 1765.2,592.3 1766.1,593.8 1767.0,592.4 1767.9,593.4 1768.8,595.0 1769.7,591.1 1770.6,593.9 1771.5,594.1 1772.4,592.5 1773.3,594.3 1774.2,594.1 1775.1,593.2 1776.0,595.1 1776.9,592.1 1777.8,594.4 1778.7,593.4 1779.6,592.4 1780.5,593.4 1781.4,593.2 1782.3,594.5 1783.2,591.7 1784.1,593.3 1785.0,592.9 1785.9,595.3 1786.8,592.0 1787.7,594.5 1788.6,591.0 1789.5,593.5 1790.4,592.8 1791.3,593.2 1792.2,591.7 1793.1,590.1 1794.0,590.3 1794.9,593.5 1795.8,591.9 1796.7,590.3 1797.6,592.1 1798.5,589.7 1799.4,589.3 1800.3,588.3 1801.2,590.7 1802.1,591.2 1803.0,587.3 1803.9,588.3 1804.8,588.8 1805.7,589.8 1806.6,584.2 1807.5,587.1 1808.4,587.7 1809.3,585.3 1810.2,587.8 1811.1,587.8 1812.0,588.8 1812.9,587.7 1813.8,589.3 1814.7,588.6 1815.6,590.5 1816.5,590.4 1817.4,590.1 1818.3,589.3 1819.2,593.3 1820.1,593.0 1821.0,593.0 1821.9,591.4 1822.8,592.0 1823.7,594.7 1824.6,593.8 1825.5,592.0 1826.4,593.2 1827.3,593.5 1828.2,593.2 1829.1,592.4 1830.0,595.1 1830.9,594.3 1831.8,593.5 1832.7,591.9 1833.6,593.1 1834.5,593.8 1835.4,594.9 1836.3,593.5 1837.2,595.3 1838.1,594.1 1839.0,593.1 1839.9,590.7 1840.8,592.6 1841.7,592.3 1842.6,593.9 1843.5,594.5 1844.4,595.8 1845.3,594.1 1846.2,592.7 1847.1,597.0 1848.0,594.5 1848.9,593.8 1849.8,593.8 1850.7,592.5 1851.6,594.9 1852.5,594.6 1853.4,596.1 1854.3,595.5 1855.2,595.2 1856.1,595.7 1857.0,593.9 1857.9,593.7 1858.8,594.1 1859.7,592.7 1860.6,594.0 1861.5,593.8 1862.4,595.0 1863.3,594.2 1864.2,591.9 1865.1,594.3 1866.0,595.9 1866.9,592.0 1867.8,593.3 1868.7,594.2 1869.6,592.6 1870.5,593.6 1871.4,594.3 1872.3,592.6 1873.2,594.6 1874.1,594.7 1875.0,592.7 1875.9,594.2 1876.8,595.5 1877.7,594.0 1878.6,594.7 1879.5,595.0 1880.4,593.9 1881.3,595.4 1882.2,594.6 1883.1,593.0 1884.0,594.8 1884.9,595.2 1885.8,595.1 1886.7,593.4 1887.6,594.7 1888.5,595.8 1889.4,594.4 1890.3,595.6 1891.2,595.7 1892.1,594.1 1893.0,594.9 1893.9,593.8 1894.8,595.4 1895.7,594.0 1896.6,593.5 1897.5,594.1 1898.4,594.0 1899.3,594.6 1900.2,594.7 1901.1,592.7 1902.0,593.3 1902.9,594.5 1903.8,594.7 1904.7,594.2 1905.6,597.2 1906.5,595.4 1907.4,594.0 1908.3,594.9 1909.2,595.7 1910.1,594.5 1911.0,591.9 1911.9,594.2 1912.8,594.1 1913.7,596.6 1914.6,591.8 1915.5,595.9 1916.4,593.8 1917.3,595.1 1918.2,593.6 1919.1,594.2 1920.0,595.3 1920.9,594.1 1921.8,595.2 1922.7,593.9 1923.6,593.5 1924.5,593.7 1925.4,593.3 1926.3,593.8 1927.2,595.6 1928.1,592.5 1929.0,591.9 1929.9,593.9 1930.8,595.9 1931.7,595.1 1932.6,595.5 1933.5,595.4 1934.4,593.0 1935.3,594.0 1936.2,590.6 1937.1,593.1 1938.0,594.5 1938.9,591.9 1939.8,591.3 1940.7,592.2 1941.6,594.0 1942.5,595.2 1943.4,596.9 1944.3,595.5 1945.2,591.9 1946.1,590.9 1947.0,593.9 1947.9,595.0 1948.8,591.8 1949.7,593.1 1950.6,593.1 1951.5,593.7 1952.4,593.5 1953.3,594.3 1954.2,594.9 1955.1,593.7 1956.0,594.5 1956.9,596.0 1957.8,592.4 1958.7,592.3 1959.6,594.2 1960.5,595.8 1961.4,593.8 1962.3,594.9 1963.2,593.2 1964.1,594.6 1965.0,592.8 1965.9,594.3 1966.8,594.0 1967.7,594.0 1968.6,595.1 1969.5,594.7 1970.4,592.7 1971.3,594.5 1972.2,591.4 1973.1,594.6 1974.0,596.7 1974.9,594.0 1975.8,594.0 1976.7,593.4 1977.6,594.3 1978.5,592.8 1979.4,594.1 1980.3,593.0 1981.2,592.8 1982.1,593.4 1983.0,593.2 1983.9,591.2 1984.8,595.7 1985.7,593.4 1986.6,591.1 1987.5,594.5 1988.4,593.1 1989.3,593.4 1990.2,594.0 1991.1,592.0 1992.0,589.5 1992.9,592.9 1993.8,593.3 1994.7,594.2 1995.6,592.1 1996.5,592.6 1997.4,593.4 1998.3,592.5 1999.2,592.6 2000.1,593.1 2001.0,591.6 2001.9,594.7 2002.8,591.6 2003.7,592.8 2004.6,592.3 2005.5,591.8 2006.4,593.3 2007.3,593.8 2008.2,594.3 2009.1,593.2 2010.0,591.9 2010.9,593.4 2011.8,590.6 2012.7,592.4 2013.6,592.9 2014.5,592.9 2015.4,590.8 2016.3,590.3 2017.2,594.0 2018.1,591.3 2019.0,589.8 2019.9,590.2 2020.8,591.6 2021.7,592.9 2022.6,591.3 2023.5,592.6 2024.4,591.2 2025.3,591.3 2026.2,591.7 2027.1,589.8 2028.0,590.3 2028.9,589.1 2029.8,588.5 2030.7,589.6 2031.6,587.4 2032.5,588.0 2033.4,586.4 2034.3,586.7 2035.2,585.6 2036.1,586.9 2037.0,585.0 2037.9,584.3 2038.8,585.5 2039.7,579.4 2040.6,580.9 2041.5,578.4"/>
<polyline fill="none" stroke="#ff7300" stroke-width="10.8" stroke-linejoin="round" stroke-linecap="butt" clip-path="url(#pc)" points="210.0,999.5 210.9,1001.5 211.8,1001.8 212.7,1002.4 213.6,1004.1 214.5,1001.4 215.4,1002.7 216.3,1002.5 217.2,1004.6 218.1,1006.6 219.0,1005.9 219.9,1007.2 220.8,1004.9 221.7,1007.9 222.6,1007.2 223.5,1011.0 224.4,1010.4 225.3,1011.0 226.2,1010.3 227.1,1011.6 228.0,1012.2 228.9,1011.4 229.8,1011.7 230.7,1012.6 231.6,1012.4 232.5,1012.8 233.4,1013.6 234.3,1013.4 235.2,1015.5 236.1,1013.0 237.0,1016.3 237.9,1014.8 238.8,1015.2 239.7,1014.6 240.6,1016.3 241.5,1016.5 242.4,1017.3 243.3,1016.7 244.2,1017.7 245.1,1020.0 246.0,1018.5 246.9,1017.6 247.8,1019.6 248.7,1018.5 249.6,1019.6 250.5,1019.8 251.4,1018.8 252.3,1017.2 253.2,1019.2 254.1,1020.5 255.0,1019.6 255.9,1020.7 256.8,1021.5 257.7,1019.8 258.6,1022.1 259.5,1022.7 260.4,1022.2 261.3,1022.4 262.2,1022.5 263.1,1024.0 264.0,1021.6 264.9,1021.5 265.8,1022.3 266.7,1020.6 267.6,1019.9 268.5,1020.8 269.4,1022.4 270.3,1022.6 271.2,1020.3 272.1,1019.9 273.0,1021.9 273.9,1022.1 274.8,1022.3 275.7,1023.2 276.6,1023.9 277.5,1022.7 278.4,1023.1 279.3,1021.1 280.2,1021.0 281.1,1022.6 282.0,1023.1 282.9,1023.2 283.8,1022.9 284.7,1023.1 285.6,1023.1 286.5,1019.9 287.4,1021.0 288.3,1022.3 289.2,1022.4 290.1,1019.7 291.0,1022.8 291.9,1020.7 292.8,1020.7 293.7,1021.1 294.6,1021.5 295.5,1018.7 296.4,1021.3 297.3,1020.0 298.2,1018.7 299.1,1019.0 300.0,1016.3 300.9,1017.8 301.8,1018.5 302.7,1017.0 303.6,1017.0 304.5,1016.8 305.4,1016.5 306.3,1017.1 307.2,1015.3 308.1,1014.4 309.0,1014.6 309.9,1015.7 310.8,1012.0 311.7,1012.2 312.6,1008.7 313.5,1011.2 314.4,1009.3 315.3,1008.8 316.2,1005.8 317.1,1003.1 318.0,1003.7 318.9,1001.7 319.8,997.7 320.7,994.6 321.6,994.4 322.5,990.7 323.4,990.8 324.3,983.2 325.2,979.2 326.1,975.1 327.0,968.1 327.9,963.3 328.8,959.9 329.7,950.6 330.6,942.2 331.5,932.7 332.4,925.3 333.3,915.0 334.2,903.1 335.1,890.1 336.0,877.7 336.9,863.7 337.8,847.4 338.7,833.2 339.6,813.5 340.5,797.5 341.4,781.4 342.3,764.3 343.2,745.9 344.1,731.2 345.0,716.6 345.9,702.1 346.8,690.0 347.7,681.5 348.6,674.8 349.5,670.0 350.4,671.6 351.3,677.4 352.2,681.6 353.1,693.1 354.0,705.0 354.9,718.8 355.8,734.5 356.7,752.6 357.6,770.2 358.5,787.6 359.4,802.7 360.3,821.0 361.2,838.0 362.1,854.3 363.0,868.8 363.9,882.8 364.8,896.1 365.7,907.9 366.6,917.0 367.5,928.3 368.4,936.7 369.3,943.2 370.2,951.8 371.1,963.3 372.0,965.7 372.9,970.0 373.8,977.0 374.7,984.1 375.6,986.2 376.5,990.4 377.4,992.8 378.3,995.9 379.2,1000.1 380.1,1001.9 381.0,1002.9 381.9,1006.0 382.8,1007.9 383.7,1007.9 384.6,1010.0 385.5,1011.2 386.4,1011.3 387.3,1014.6 388.2,1014.1 389.1,1014.5 390.0,1014.1 390.9,1015.5 391.8,1019.6 392.7,1017.1 393.6,1019.7 394.5,1019.4 395.4,1021.1 396.3,1021.7 397.2,1020.6 398.1,1021.7 399.0,1022.7 399.9,1023.2 400.8,1023.5 401.7,1023.5 402.6,1025.1 403.5,1026.3 404.4,1025.7 405.3,1024.5 406.2,1026.2 407.1,1026.1 408.0,1026.9 408.9,1028.8 409.8,1026.6 410.7,1027.1 411.6,1026.3 412.5,1027.3 413.4,1027.2 414.3,1030.0 415.2,1028.7 416.1,1027.8 417.0,1031.0 417.9,1027.3 418.8,1030.1 419.7,1030.4 420.6,1030.0 421.5,1029.2 422.4,1029.5 423.3,1029.4 424.2,1030.8 425.1,1027.2 426.0,1029.5 426.9,1030.4 427.8,1029.7 428.7,1028.3 429.6,1030.3 430.5,1029.8 431.4,1031.7 432.3,1032.5 433.2,1031.0 434.1,1028.7 435.0,1030.8 435.9,1030.0 436.8,1032.0 437.7,1033.3 438.6,1031.7 439.5,1033.8 440.4,1033.3 441.3,1032.3 442.2,1030.5 443.1,1031.8 444.0,1030.0 444.9,1033.1 445.8,1032.0 446.7,1033.5 447.6,1032.3 448.5,1029.6 449.4,1032.8 450.3,1033.2 451.2,1034.1 452.1,1030.9 453.0,1031.0 453.9,1032.2 454.8,1030.9 455.7,1030.5 456.6,1030.9 457.5,1035.3 458.4,1031.4 459.3,1031.0 460.2,1031.6 461.1,1032.2 462.0,1033.7 462.9,1033.3 463.8,1033.1 464.7,1032.2 465.6,1032.4 466.5,1031.4 467.4,1030.3 468.3,1034.6 469.2,1031.6 470.1,1033.3 471.0,1031.7 471.9,1032.0 472.8,1031.9 473.7,1030.4 474.6,1031.9 475.5,1032.4 476.4,1032.9 477.3,1032.5 478.2,1033.0 479.1,1032.1 480.0,1031.7 480.9,1029.2 481.8,1030.9 482.7,1033.3 483.6,1031.5 484.5,1032.2 485.4,1030.9 486.3,1030.3 487.2,1033.5 488.1,1031.3 489.0,1032.6 489.9,1031.3 490.8,1030.2 491.7,1027.8 492.6,1030.5 493.5,1028.3 494.4,1027.4 495.3,1031.5 496.2,1030.7 497.1,1030.5 498.0,1029.7 498.9,1029.4 499.8,1029.8 500.7,1029.4 501.6,1029.2 502.5,1029.8 503.4,1025.8 504.3,1029.7 505.2,1027.8 506.1,1029.4 507.0,1029.6 507.9,1027.1 508.8,1028.9 509.7,1028.7 510.6,1026.8 511.5,1026.8 512.4,1027.5 513.3,1024.5 514.2,1026.5 515.1,1027.1 516.0,1026.2 516.9,1024.7 517.8,1026.0 518.7,1028.1 519.6,1027.7 520.5,1025.9 521.4,1024.9 522.3,1025.7 523.2,1025.6 524.1,1024.6 525.0,1024.9 525.9,1025.9 526.8,1026.1 527.7,1022.0 528.6,1025.9 529.5,1024.8 530.4,1025.9 531.3,1024.3 532.2,1024.8 533.1,1026.1 534.0,1020.4 534.9,1025.7 535.8,1023.9 536.7,1021.4 537.6,1020.2 538.5,1023.7 539.4,1021.9 540.3,1024.3 541.2,1023.2 542.1,1022.6 543.0,1023.8 543.9,1022.7 544.8,1023.2 545.7,1023.1 546.6,1022.3 547.5,1022.7 548.4,1022.5 549.3,1019.7 550.2,1020.8 551.1,1020.7 552.0,1020.2 552.9,1018.5 553.8,1019.4 554.7,1020.2 555.6,1019.7 556.5,1020.9 557.4,1017.9 558.3,1017.7 559.2,1017.1 560.1,1016.9 561.0,1016.0 561.9,1013.8 562.8,1015.8 563.7,1015.8 564.6,1015.1 565.5,1011.4 566.4,1011.4 567.3,1012.6 568.2,1008.8 569.1,1007.8 570.0,1005.3 570.9,1004.7 571.8,1002.4 572.7,1001.4 573.6,996.3 574.5,993.0 575.4,987.5 576.3,984.5 577.2,979.8 578.1,975.4 579.0,969.0 579.9,966.4 580.8,957.6 581.7,952.7 582.6,944.0 583.5,938.6 584.4,932.6 585.3,921.7 586.2,915.0 587.1,906.2 588.0,898.3 588.9,890.3 589.8,881.0 590.7,874.0 591.6,866.4 592.5,859.9 593.4,854.1 594.3,852.5 595.2,847.5 596.1,847.7 597.0,847.5 597.9,847.0 598.8,852.3 599.7,854.1 600.6,861.1 601.5,868.3 602.4,872.7 603.3,880.0 604.2,888.0 605.1,900.1 606.0,905.2 606.9,912.5 607.8,923.2 608.7,929.9 609.6,937.8 610.5,944.0 611.4,949.5 612.3,957.8 613.2,963.6 614.1,968.6 615.0,974.5 615.9,979.6 616.8,986.1 617.7,990.0 618.6,993.4 619.5,995.5 620.4,997.5 621.3,1002.0 622.2,1004.6 623.1,1007.3 624.0,1008.0 624.9,1009.5 625.8,1011.5 626.7,1011.3 627.6,1012.6 628.5,1015.4 629.4,1014.0 630.3,1016.2 631.2,1018.0 632.1,1018.0 633.0,1018.8 633.9,1017.5 634.8,1019.2 635.7,1019.5 636.6,1020.9 637.5,1021.1 638.4,1021.0 639.3,1023.6 640.2,1022.3 641.1,1021.6 642.0,1021.5 642.9,1022.4 643.8,1022.0 644.7,1024.9 645.6,1023.8 646.5,1023.0 647.4,1022.8 648.3,1022.5 649.2,1023.6 650.1,1025.7 651.0,1025.3 651.9,1024.4 652.8,1024.8 653.7,1022.5 654.6,1025.8 655.5,1024.7 656.4,1026.8 657.3,1025.0 658.2,1024.8 659.1,1025.7 660.0,1024.8 660.9,1027.3 661.8,1026.1 662.7,1026.3 663.6,1026.4 664.5,1025.6 665.4,1026.7 666.3,1026.4 667.2,1028.4 668.1,1026.5 669.0,1026.9 669.9,1026.0 670.8,1026.2 671.7,1026.3 672.6,1028.3 673.5,1026.9 674.4,1028.0 675.3,1026.6 676.2,1026.5 677.1,1024.7 678.0,1028.1 678.9,1029.6 679.8,1026.9 680.7,1028.9 681.6,1028.3 682.5,1026.5 683.4,1028.2 684.3,1026.3 685.2,1027.0 686.1,1028.9 687.0,1027.6 687.9,1026.1 688.8,1029.2 689.7,1026.2 690.6,1027.4 691.5,1027.2 692.4,1027.4 693.3,1026.6 694.2,1025.7 695.1,1029.9 696.0,1026.5 696.9,1026.6 697.8,1024.8 698.7,1027.8 699.6,1029.3 700.5,1029.4 701.4,1031.0 702.3,1029.5 703.2,1028.2 704.1,1027.8 705.0,1029.5 705.9,1027.7 706.8,1028.0 707.7,1026.6 708.6,1027.9 709.5,1030.2 710.4,1027.7 711.3,1028.3 712.2,1024.9 713.1,1029.4 714.0,1028.2 714.9,1029.5 715.8,1028.1 716.7,1026.7 717.6,1026.1 718.5,1028.3 719.4,1027.7 720.3,1026.5 721.2,1027.6 722.1,1026.9 723.0,1028.5 723.9,1027.2 724.8,1026.2 725.7,1027.5 726.6,1026.9 727.5,1029.3 728.4,1027.0 729.3,1025.9 730.2,1027.4 731.1,1027.2 732.0,1027.8 732.9,1027.7 733.8,1026.2 734.7,1027.3 735.6,1027.3 736.5,1025.9 737.4,1026.6 738.3,1027.6 739.2,1025.4 740.1,1026.0 741.0,1026.7 741.9,1027.1 742.8,1027.8 743.7,1025.5 744.6,1027.5 745.5,1027.9 746.4,1028.9 747.3,1026.6 748.2,1025.9 749.1,1025.2 750.0,1027.7 750.9,1028.5 751.8,1026.1 752.7,1027.5 753.6,1027.9 754.5,1028.0 755.4,1026.4 756.3,1027.6 757.2,1026.8 758.1,1025.7 759.0,1027.1 759.9,1027.2 760.8,1025.6 761.7,1027.3 762.6,1029.1 763.5,1024.9 764.4,1027.5 765.3,1027.7 766.2,1026.7 767.1,1027.0 768.0,1026.2 768.9,1028.1 769.8,1025.3 770.7,1026.3 771.6,1024.1 772.5,1026.7 773.4,1026.8 774.3,1024.3 775.2,1025.2 776.1,1026.7 777.0,1025.5 777.9,1024.6 778.8,1023.0 779.7,1026.4 780.6,1028.3 781.5,1025.3 782.4,1026.4 783.3,1026.3 784.2,1025.6 785.1,1025.8 786.0,1025.8 786.9,1024.5 787.8,1028.5 788.7,1028.7 789.6,1025.8 790.5,1027.5 791.4,1024.3 792.3,1025.0 793.2,1026.5 794.1,1023.7 795.0,1023.5 795.9,1025.4 796.8,1022.5 797.7,1026.9 798.6,1025.6 799.5,1025.0 800.4,1025.4 801.3,1023.4 802.2,1023.3 803.1,1025.3 804.0,1025.4 804.9,1024.3 805.8,1024.0 806.7,1023.3 807.6,1025.5 808.5,1021.9 809.4,1022.6 810.3,1022.8 811.2,1021.5 812.1,1021.6 813.0,1021.8 813.9,1024.1 814.8,1024.9 815.7,1022.9 816.6,1020.4 817.5,1021.4 818.4,1021.7 819.3,1021.3 820.2,1020.9 821.1,1021.7 822.0,1018.4 822.9,1019.6 823.8,1020.1 824.7,1020.2 825.6,1019.0 826.5,1018.0 827.4,1016.9 828.3,1015.3 829.2,1015.0 830.1,1013.2 831.0,1010.9 831.9,1011.2 832.8,1008.8 833.7,1004.1 834.6,1002.1 835.5,999.0 836.4,993.6 837.3,988.6 838.2,983.6 839.1,975.0 840.0,968.7 840.9,963.9 841.8,955.9 842.7,949.1 843.6,938.4 844.5,931.7 845.4,923.0 846.3,915.7 847.2,904.3 848.1,897.5 849.0,891.8 849.9,886.7 850.8,881.5 851.7,880.0 852.6,878.9 853.5,884.7 854.4,885.1 855.3,889.8 856.2,894.9 857.1,902.3 858.0,910.5 858.9,916.8 859.8,924.8 860.7,935.0 861.6,940.7 862.5,946.7 863.4,952.2 864.3,958.4 865.2,962.6 866.1,968.3 867.0,971.1 867.9,974.4 868.8,977.7 869.7,979.4 870.6,983.2 871.5,988.0 872.4,986.2 873.3,986.8 874.2,991.9 875.1,992.5 876.0,997.0 876.9,997.0 877.8,999.7 878.7,999.6 879.6,1000.5 880.5,1004.0 881.4,1006.7 882.3,1006.5 883.2,1007.1 884.1,1009.6 885.0,1010.9 885.9,1012.1 886.8,1013.4 887.7,1017.0 888.6,1014.8 889.5,1014.7 890.4,1014.4 891.3,1016.9 892.2,1014.2 893.1,1018.0 894.0,1016.2 894.9,1014.4 895.8,1016.3 896.7,1015.8 897.6,1017.2 898.5,1013.7 899.4,1015.4 900.3,1014.9 901.2,1015.6 902.1,1012.8 903.0,1012.7 903.9,1015.6 904.8,1013.4 905.7,1010.4 906.6,1012.0 907.5,1010.0 908.4,1009.5 909.3,1008.1 910.2,1010.0 911.1,1007.4 912.0,1007.4 912.9,1006.4 913.8,1003.5 914.7,1003.5 915.6,1004.2 916.5,1000.3 917.4,1001.3 918.3,999.6 919.2,999.2 920.1,997.9 921.0,996.6 921.9,994.1 922.8,992.8 923.7,990.0 924.6,988.4 925.5,988.3 926.4,984.7 927.3,984.7 928.2,982.7 929.1,978.5 930.0,978.1 930.9,974.4 931.8,973.7 932.7,970.3 933.6,969.6 934.5,967.5 935.4,964.2 936.3,966.1 937.2,963.2 938.1,958.8 939.0,959.9 939.9,958.0 940.8,960.2 941.7,957.2 942.6,957.5 943.5,956.9 944.4,958.2 945.3,957.4 946.2,957.8 947.1,959.4 948.0,960.8 948.9,963.5 949.8,964.5 950.7,965.7 951.6,967.6 952.5,969.0 953.4,972.2 954.3,971.7 955.2,975.9 956.1,979.6 957.0,979.8 957.9,981.4 958.8,984.2 959.7,984.9 960.6,986.9 961.5,990.4 962.4,990.5 963.3,995.2 964.2,995.1 965.1,995.8 966.0,996.5 966.9,998.3 967.8,997.2 968.7,1001.4 969.6,1003.3 970.5,1004.0 971.4,1003.9 972.3,1006.1 973.2,1007.0 974.1,1007.0 975.0,1008.4 975.9,1010.0 976.8,1010.1 977.7,1009.8 978.6,1010.9 979.5,1011.7 980.4,1010.2 981.3,1012.9 982.2,1013.1 983.1,1011.2 984.0,1012.2 984.9,1016.9 985.8,1015.3 986.7,1017.2 987.6,1015.6 988.5,1018.2 989.4,1017.4 990.3,1016.3 991.2,1017.7 992.1,1019.6 993.0,1020.9 993.9,1018.9 994.8,1018.1 995.7,1017.8 996.6,1019.9 997.5,1020.7 998.4,1019.8 999.3,1019.7 1000.2,1021.0 1001.1,1020.8 1002.0,1020.9 1002.9,1018.8 1003.8,1020.4 1004.7,1023.2 1005.6,1021.1 1006.5,1024.2 1007.4,1021.9 1008.3,1021.3 1009.2,1022.1 1010.1,1022.6 1011.0,1021.1 1011.9,1022.4 1012.8,1021.7 1013.7,1024.1 1014.6,1021.9 1015.5,1022.7 1016.4,1020.8 1017.3,1021.1 1018.2,1022.7 1019.1,1021.8 1020.0,1022.6 1020.9,1023.3 1021.8,1023.7 1022.7,1021.4 1023.6,1022.9 1024.5,1023.9 1025.4,1022.3 1026.3,1021.6 1027.2,1022.3 1028.1,1025.1 1029.0,1023.2 1029.9,1025.0 1030.8,1022.8 1031.7,1024.5 1032.6,1021.3 1033.5,1022.7 1034.4,1023.0 1035.3,1025.0 1036.2,1023.3 1037.1,1024.0 1038.0,1022.1 1038.9,1021.9 1039.8,1023.8 1040.7,1023.9 1041.6,1023.5 1042.5,1023.3 1043.4,1021.0 1044.3,1024.0 1045.2,1021.4 1046.1,1022.5 1047.0,1021.7 1047.9,1018.4 1048.8,1017.9 1049.7,1018.0 1050.6,1019.5 1051.5,1020.6 1052.4,1018.6 1053.3,1019.5 1054.2,1016.6 1055.1,1016.9 1056.0,1016.1 1056.9,1016.7 1057.8,1014.8 1058.7,1015.5 1059.6,1015.8 1060.5,1013.9 1061.4,1012.8 1062.3,1012.7 1063.2,1011.1 1064.1,1010.6 1065.0,1012.0 1065.9,1010.7 1066.8,1007.7 1067.7,1008.3 1068.6,1008.3 1069.5,1007.8 1070.4,1006.6 1071.3,1006.1 1072.2,1003.8 1073.1,1002.8 1074.0,1001.5 1074.9,1002.0 1075.8,1000.6 1076.7,1000.6 1077.6,998.7 1078.5,995.2 1079.4,993.2 1080.3,992.2 1081.2,991.6 1082.1,992.3 1083.0,988.7 1083.9,986.9 1084.8,988.1 1085.7,988.2 1086.6,987.2 1087.5,987.4 1088.4,984.6 1089.3,983.2 1090.2,982.8 1091.1,981.0 1092.0,981.4 1092.9,983.4 1093.8,984.1 1094.7,983.0 1095.6,981.8 1096.5,981.3 1097.4,982.1 1098.3,979.8 1099.2,983.2 1100.1,983.9 1101.0,983.4 1101.9,984.3 1102.8,982.9 1103.7,986.7 1104.6,987.6 1105.5,984.2 1106.4,987.8 1107.3,989.8 1108.2,992.4 1109.1,990.4 1110.0,992.3 1110.9,995.2 1111.8,995.0 1112.7,995.1 1113.6,995.8 1114.5,997.3 1115.4,997.3 1116.3,1000.4 1117.2,999.0 1118.1,1001.6 1119.0,1002.9 1119.9,1004.1 1120.8,1003.6 1121.7,1004.2 1122.6,1005.4 1123.5,1005.8 1124.4,1007.7 1125.3,1007.0 1126.2,1010.0 1127.1,1011.7 1128.0,1008.1 1128.9,1010.0 1129.8,1008.6 1130.7,1011.5 1131.6,1011.5 1132.5,1011.3 1133.4,1010.7 1134.3,1012.5 1135.2,1015.3 1136.1,1015.2 1137.0,1014.1 1137.9,1013.3 1138.8,1014.3 1139.7,1013.8 1140.6,1013.4 1141.5,1014.2 1142.4,1016.4 1143.3,1016.4 1144.2,1016.5 1145.1,1015.2 1146.0,1015.1 1146.9,1018.3 1147.8,1016.9 1148.7,1019.0 1149.6,1017.0 1150.5,1019.3 1151.4,1018.6 1152.3,1018.0 1153.2,1018.3 1154.1,1021.3 1155.0,1020.3 1155.9,1019.1 1156.8,1019.8 1157.7,1017.9 1158.6,1022.1 1159.5,1021.9 1160.4,1019.9 1161.3,1021.1 1162.2,1017.4 1163.1,1022.0 1164.0,1021.6 1164.9,1021.5 1165.8,1022.3 1166.7,1021.9 1167.6,1020.5 1168.5,1021.0 1169.4,1021.7 1170.3,1023.2 1171.2,1022.2 1172.1,1021.5 1173.0,1022.9 1173.9,1021.1 1174.8,1025.3 1175.7,1023.3 1176.6,1021.8 1177.5,1023.4 1178.4,1024.6 1179.3,1024.1 1180.2,1026.0 1181.1,1021.9 1182.0,1025.7 1182.9,1023.9 1183.8,1025.1 1184.7,1026.2 1185.6,1022.8 1186.5,1022.7 1187.4,1024.0 1188.3,1022.6 1189.2,1022.3 1190.1,1024.9 1191.0,1026.4 1191.9,1024.5 1192.8,1025.8 1193.7,1029.7 1194.6,1025.8 1195.5,1025.1 1196.4,1025.4 1197.3,1026.2 1198.2,1025.5 1199.1,1026.8 1200.0,1026.3 1200.9,1027.3 1201.8,1026.4 1202.7,1026.3 1203.6,1025.3 1204.5,1024.9 1205.4,1026.3 1206.3,1026.3 1207.2,1027.2 1208.1,1026.9 1209.0,1026.6 1209.9,1029.9 1210.8,1027.6 1211.7,1028.8 1212.6,1026.2 1213.5,1028.7 1214.4,1029.0 1215.3,1028.2 1216.2,1026.7 1217.1,1029.4 1218.0,1027.1 1218.9,1026.2 1219.8,1026.2 1220.7,1028.3 1221.6,1027.7 1222.5,1029.4 1223.4,1029.3 1224.3,1030.2 1225.2,1029.0 1226.1,1028.8 1227.0,1028.8 1227.9,1027.9 1228.8,1027.9 1229.7,1028.1 1230.6,1029.4 1231.5,1028.1 1232.4,1029.1 1233.3,1030.6 1234.2,1026.5 1235.1,1028.4 1236.0,1028.3 1236.9,1029.5 1237.8,1027.8 1238.7,1028.9 1239.6,1032.5 1240.5,1028.1 1241.4,1029.7 1242.3,1030.1 1243.2,1029.6 1244.1,1028.5 1245.0,1031.2 1245.9,1027.8 1246.8,1029.0 1247.7,1029.9 1248.6,1029.5 1249.5,1031.7 1250.4,1029.9 1251.3,1032.6 1252.2,1030.4 1253.1,1032.3 1254.0,1030.9 1254.9,1030.2 1255.8,1030.2 1256.7,1031.8 1257.6,1029.9 1258.5,1030.6 1259.4,1029.7 1260.3,1028.2 1261.2,1031.4 1262.1,1031.5 1263.0,1029.3 1263.9,1031.4 1264.8,1030.6 1265.7,1028.6 1266.6,1029.8 1267.5,1031.8 1268.4,1032.3 1269.3,1031.5 1270.2,1034.5 1271.1,1031.6 1272.0,1030.3 1272.9,1029.4 1273.8,1033.0 1274.7,1030.7 1275.6,1030.9 1276.5,1030.3 1277.4,1030.4 1278.3,1031.0 1279.2,1032.0 1280.1,1032.1 1281.0,1031.9 1281.9,1032.7 1282.8,1031.0 1283.7,1030.4 1284.6,1031.6 1285.5,1029.2 1286.4,1032.7 1287.3,1032.4 1288.2,1032.4 1289.1,1030.5 1290.0,1031.2 1290.9,1031.9 1291.8,1030.7 1292.7,1030.6 1293.6,1031.7 1294.5,1032.1 1295.4,1031.2 1296.3,1033.3 1297.2,1034.7 1298.1,1032.8 1299.0,1031.9 1299.9,1031.7 1300.8,1034.1 1301.7,1032.5 1302.6,1032.9 1303.5,1032.5 1304.4,1031.5 1305.3,1034.1 1306.2,1032.0 1307.1,1032.5 1308.0,1029.7 1308.9,1034.9 1309.8,1033.3 1310.7,1032.2 1311.6,1031.4 1312.5,1031.7 1313.4,1030.4 1314.3,1033.0 1315.2,1031.4 1316.1,1033.0 1317.0,1033.0 1317.9,1034.8 1318.8,1032.8 1319.7,1032.9 1320.6,1033.2 1321.5,1031.8 1322.4,1032.3 1323.3,1033.0 1324.2,1034.0 1325.1,1033.5 1326.0,1032.3 1326.9,1034.1 1327.8,1032.2 1328.7,1030.9 1329.6,1034.6 1330.5,1032.7 1331.4,1032.2 1332.3,1031.3 1333.2,1032.2 1334.1,1034.8 1335.0,1032.7 1335.9,1035.5 1336.8,1032.8 1337.7,1034.2 1338.6,1032.9 1339.5,1032.3 1340.4,1032.3 1341.3,1032.5 1342.2,1031.4 1343.1,1031.3 1344.0,1033.3 1344.9,1034.3 1345.8,1033.0 1346.7,1032.9 1347.6,1031.7 1348.5,1034.2 1349.4,1034.1 1350.3,1031.4 1351.2,1032.9 1352.1,1032.4 1353.0,1031.0 1353.9,1034.7 1354.8,1034.2 1355.7,1033.1 1356.6,1034.4 1357.5,1032.1 1358.4,1033.0 1359.3,1034.2 1360.2,1032.2 1361.1,1032.9 1362.0,1031.4 1362.9,1033.3 1363.8,1033.8 1364.7,1031.2 1365.6,1031.4 1366.5,1032.2 1367.4,1033.9 1368.3,1031.6 1369.2,1031.1 1370.1,1031.9 1371.0,1033.3 1371.9,1030.0 1372.8,1031.6 1373.7,1033.3 1374.6,1031.6 1375.5,1031.2 1376.4,1032.4 1377.3,1029.8 1378.2,1033.6 1379.1,1031.5 1380.0,1030.3 1380.9,1030.7 1381.8,1030.4 1382.7,1029.9 1383.6,1028.5 1384.5,1029.4 1385.4,1027.4 1386.3,1030.8 1387.2,1027.4 1388.1,1027.5 1389.0,1026.9 1389.9,1028.2 1390.8,1026.4 1391.7,1027.6 1392.6,1024.4 1393.5,1024.0 1394.4,1022.4 1395.3,1020.4 1396.2,1020.2 1397.1,1018.0 1398.0,1015.4 1398.9,1008.9 1399.8,1007.3 1400.7,1001.4 1401.6,996.8 1402.5,991.1 1403.4,986.8 1404.3,983.3 1405.2,978.9 1406.1,974.4 1407.0,967.0 1407.9,964.3 1408.8,963.6 1409.7,963.5 1410.6,965.1 1411.5,965.6 1412.4,971.3 1413.3,976.6 1414.2,980.8 1415.1,984.9 1416.0,988.4 1416.9,993.0 1417.8,998.4 1418.7,999.8 1419.6,1002.7 1420.5,1004.9 1421.4,1002.6 1422.3,1005.1 1423.2,1004.7 1424.1,1005.0 1425.0,1001.9 1425.9,1000.3 1426.8,997.7 1427.7,996.3 1428.6,993.0 1429.5,990.1 1430.4,987.5 1431.3,983.4 1432.2,979.5 1433.1,977.3 1434.0,974.6 1434.9,974.0 1435.8,974.0 1436.7,972.0 1437.6,970.4 1438.5,975.8 1439.4,977.6 1440.3,979.7 1441.2,984.0 1442.1,990.2 1443.0,989.9 1443.9,993.9 1444.8,998.8 1445.7,998.4 1446.6,1004.6 1447.5,1009.2 1448.4,1011.2 1449.3,1013.3 1450.2,1014.6 1451.1,1016.7 1452.0,1021.8 1452.9,1020.3 1453.8,1023.0 1454.7,1021.0 1455.6,1023.9 1456.5,1025.0 1457.4,1025.5 1458.3,1023.5 1459.2,1026.2 1460.1,1029.1 1461.0,1028.5 1461.9,1027.4 1462.8,1029.8 1463.7,1026.9 1464.6,1030.2 1465.5,1030.3 1466.4,1029.4 1467.3,1029.2 1468.2,1028.7 1469.1,1030.7 1470.0,1033.2 1470.9,1032.4 1471.8,1032.0 1472.7,1032.8 1473.6,1031.2 1474.5,1032.7 1475.4,1028.7 1476.3,1031.7 1477.2,1031.9 1478.1,1032.5 1479.0,1032.4 1479.9,1033.5 1480.8,1032.1 1481.7,1034.0 1482.6,1032.7 1483.5,1034.1 1484.4,1033.3 1485.3,1034.2 1486.2,1033.8 1487.1,1032.5 1488.0,1033.5 1488.9,1031.8 1489.8,1033.4 1490.7,1033.8 1491.6,1033.0 1492.5,1033.1 1493.4,1034.5 1494.3,1034.7 1495.2,1034.9 1496.1,1032.5 1497.0,1032.6 1497.9,1033.9 1498.8,1033.9 1499.7,1030.5 1500.6,1034.9 1501.5,1033.8 1502.4,1030.7 1503.3,1033.3 1504.2,1031.2 1505.1,1031.3 1506.0,1029.9 1506.9,1029.8 1507.8,1030.0 1508.7,1030.2 1509.6,1028.4 1510.5,1029.2 1511.4,1028.0 1512.3,1027.9 1513.2,1027.1 1514.1,1027.0 1515.0,1029.4 1515.9,1025.3 1516.8,1025.4 1517.7,1026.8 1518.6,1026.3 1519.5,1025.7 1520.4,1027.6 1521.3,1026.0 1522.2,1027.7 1523.1,1029.2 1524.0,1029.2 1524.9,1028.6 1525.8,1029.5 1526.7,1030.2 1527.6,1031.2 1528.5,1029.9 1529.4,1033.0 1530.3,1032.9 1531.2,1034.7 1532.1,1033.9 1533.0,1034.5 1533.9,1030.2 1534.8,1033.5 1535.7,1036.6 1536.6,1035.2 1537.5,1034.5 1538.4,1036.1 1539.3,1035.6 1540.2,1036.2 1541.1,1035.1 1542.0,1036.8 1542.9,1038.2 1543.8,1036.8 1544.7,1037.2 1545.6,1036.0 1546.5,1037.5 1547.4,1036.6 1548.3,1035.5 1549.2,1036.8 1550.1,1037.1 1551.0,1038.2 1551.9,1038.7 1552.8,1037.4 1553.7,1037.3 1554.6,1038.6 1555.5,1036.8 1556.4,1037.6 1557.3,1037.8 1558.2,1037.9 1559.1,1037.5 1560.0,1040.2 1560.9,1039.5 1561.8,1038.2 1562.7,1036.7 1563.6,1037.9 1564.5,1039.2 1565.4,1036.2 1566.3,1041.6 1567.2,1038.6 1568.1,1038.7 1569.0,1039.6 1569.9,1037.1 1570.8,1039.0 1571.7,1038.9 1572.6,1039.8 1573.5,1037.8 1574.4,1039.8 1575.3,1040.5 1576.2,1039.5 1577.1,1038.5 1578.0,1038.1 1578.9,1037.1 1579.8,1038.5 1580.7,1039.9 1581.6,1041.1 1582.5,1040.6 1583.4,1040.8 1584.3,1038.8 1585.2,1038.8 1586.1,1037.5 1587.0,1038.6 1587.9,1038.1 1588.8,1039.1 1589.7,1040.2 1590.6,1039.3 1591.5,1039.1 1592.4,1040.3 1593.3,1041.3 1594.2,1040.8 1595.1,1037.4 1596.0,1041.6 1596.9,1038.9 1597.8,1037.7 1598.7,1039.0 1599.6,1040.6 1600.5,1036.2 1601.4,1041.0 1602.3,1039.6 1603.2,1040.0 1604.1,1037.7 1605.0,1038.6 1605.9,1037.9 1606.8,1040.7 1607.7,1038.3 1608.6,1039.6 1609.5,1038.3 1610.4,1037.1 1611.3,1040.1 1612.2,1040.4 1613.1,1040.7 1614.0,1038.2 1614.9,1038.8 1615.8,1039.5 1616.7,1039.0 1617.6,1038.8 1618.5,1041.2 1619.4,1037.8 1620.3,1039.2 1621.2,1037.3 1622.1,1039.5 1623.0,1037.3 1623.9,1036.2 1624.8,1038.1 1625.7,1037.0 1626.6,1036.3 1627.5,1036.2 1628.4,1035.4 1629.3,1036.5 1630.2,1035.9 1631.1,1037.2 1632.0,1034.1 1632.9,1036.3 1633.8,1034.9 1634.7,1032.3 1635.6,1035.5 1636.5,1031.4 1637.4,1034.0 1638.3,1031.0 1639.2,1033.6 1640.1,1032.8 1641.0,1033.1 1641.9,1031.2 1642.8,1032.8 1643.7,1035.4 1644.6,1035.0 1645.5,1034.5 1646.4,1034.7 1647.3,1034.4 1648.2,1037.2 1649.1,1035.7 1650.0,1037.3 1650.9,1034.5 1651.8,1034.6 1652.7,1038.3 1653.6,1035.8 1654.5,1036.8 1655.4,1037.7 1656.3,1038.4 1657.2,1038.2 1658.1,1038.2 1659.0,1039.5 1659.9,1038.0 1660.8,1038.8 1661.7,1037.8 1662.6,1037.9 1663.5,1040.0 1664.4,1037.4 1665.3,1034.7 1666.2,1037.8 1667.1,1037.9 1668.0,1039.8 1668.9,1037.1 1669.8,1036.1 1670.7,1037.6 1671.6,1039.6 1672.5,1036.8 1673.4,1038.7 1674.3,1037.7 1675.2,1037.7 1676.1,1035.8 1677.0,1036.8 1677.9,1035.5 1678.8,1036.4 1679.7,1035.4 1680.6,1037.4 1681.5,1035.2 1682.4,1035.4 1683.3,1032.7 1684.2,1034.0 1685.1,1037.9 1686.0,1034.3 1686.9,1032.6 1687.8,1034.2 1688.7,1033.7 1689.6,1033.1 1690.5,1033.1 1691.4,1032.6 1692.3,1034.0 1693.2,1031.2 1694.1,1032.6 1695.0,1033.1 1695.9,1030.7 1696.8,1034.2 1697.7,1031.3 1698.6,1030.8 1699.5,1030.0 1700.4,1031.4 1701.3,1028.3 1702.2,1030.7 1703.1,1032.5 1704.0,1030.1 1704.9,1030.6 1705.8,1028.5 1706.7,1030.5 1707.6,1028.6 1708.5,1029.0 1709.4,1029.7 1710.3,1032.1 1711.2,1029.2 1712.1,1027.7 1713.0,1030.4 1713.9,1031.4 1714.8,1031.5 1715.7,1031.3 1716.6,1032.9 1717.5,1032.6 1718.4,1032.9 1719.3,1031.6 1720.2,1030.7 1721.1,1034.7 1722.0,1032.0 1722.9,1034.9 1723.8,1035.0 1724.7,1032.5 1725.6,1033.4 1726.5,1035.0 1727.4,1035.9 1728.3,1033.8 1729.2,1034.8 1730.1,1034.2 1731.0,1034.2 1731.9,1036.0 1732.8,1035.5 1733.7,1033.8 1734.6,1036.9 1735.5,1036.1 1736.4,1036.3 1737.3,1035.3 1738.2,1038.0 1739.1,1037.6 1740.0,1037.7 1740.9,1037.4 1741.8,1038.1 1742.7,1039.7 1743.6,1038.1 1744.5,1038.2 1745.4,1037.5 1746.3,1039.0 1747.2,1038.0 1748.1,1037.4 1749.0,1039.8 1749.9,1038.3 1750.8,1037.5 1751.7,1037.8 1752.6,1038.0 1753.5,1037.4 1754.4,1040.6 1755.3,1039.6 1756.2,1037.3 1757.1,1040.4 1758.0,1038.6 1758.9,1039.4 1759.8,1038.6 1760.7,1039.7 1761.6,1039.7 1762.5,1040.1 1763.4,1040.3 1764.3,1036.2 1765.2,1038.7 1766.1,1039.3 1767.0,1039.1 1767.9,1037.6 1768.8,1038.9 1769.7,1039.2 1770.6,1037.0 1771.5,1038.4 1772.4,1040.4 1773.3,1038.6 1774.2,1039.3 1775.1,1039.5 1776.0,1040.2 1776.9,1040.5 1777.8,1040.9 1778.7,1039.8 1779.6,1040.0 1780.5,1039.6 1781.4,1040.0 1782.3,1039.7 1783.2,1040.7 1784.1,1040.7 1785.0,1038.2 1785.9,1037.2 1786.8,1040.5 1787.7,1039.3 1788.6,1038.1 1789.5,1041.2 1790.4,1041.9 1791.3,1038.7 1792.2,1038.9 1793.1,1039.3 1794.0,1039.2 1794.9,1040.0 1795.8,1038.8 1796.7,1040.2 1797.6,1039.7 1798.5,1041.5 1799.4,1040.1 1800.3,1041.3 1801.2,1042.1 1802.1,1041.0 1803.0,1041.1 1803.9,1039.8 1804.8,1040.4 1805.7,1043.2 1806.6,1042.1 1807.5,1040.5 1808.4,1040.0 1809.3,1040.3 1810.2,1041.8 1811.1,1038.1 1812.0,1040.9 1812.9,1039.0 1813.8,1042.3 1814.7,1038.9 1815.6,1041.8 1816.5,1040.3 1817.4,1040.7 1818.3,1042.7 1819.2,1040.7 1820.1,1041.6 1821.0,1041.3 1821.9,1039.4 1822.8,1040.8 1823.7,1042.0 1824.6,1041.3 1825.5,1041.1 1826.4,1040.1 1827.3,1042.8 1828.2,1040.3 1829.1,1043.2 1830.0,1041.3 1830.9,1041.9 1831.8,1039.4 1832.7,1041.2 1833.6,1040.0 1834.5,1041.2 1835.4,1042.6 1836.3,1041.6 1837.2,1041.5 1838.1,1042.4 1839.0,1039.8 1839.9,1041.4 1840.8,1040.6 1841.7,1042.6 1842.6,1040.5 1843.5,1043.3 1844.4,1043.9 1845.3,1038.8 1846.2,1041.2 1847.1,1039.5 1848.0,1043.0 1848.9,1040.4 1849.8,1042.3 1850.7,1041.9 1851.6,1040.4 1852.5,1039.7 1853.4,1042.9 1854.3,1040.9 1855.2,1042.0 1856.1,1043.4 1857.0,1041.6 1857.9,1041.3 1858.8,1040.5 1859.7,1042.3 1860.6,1040.7 1861.5,1039.7 1862.4,1041.0 1863.3,1041.0 1864.2,1039.8 1865.1,1041.5 1866.0,1042.8 1866.9,1042.5 1867.8,1044.3 1868.7,1043.2 1869.6,1042.2 1870.5,1039.4 1871.4,1042.2 1872.3,1043.4 1873.2,1041.6 1874.1,1043.7 1875.0,1040.8 1875.9,1042.3 1876.8,1043.0 1877.7,1044.1 1878.6,1041.9 1879.5,1044.4 1880.4,1041.6 1881.3,1039.8 1882.2,1041.9 1883.1,1043.7 1884.0,1041.6 1884.9,1044.1 1885.8,1041.8 1886.7,1044.4 1887.6,1039.4 1888.5,1044.9 1889.4,1039.6 1890.3,1042.0 1891.2,1040.7 1892.1,1042.5 1893.0,1041.9 1893.9,1041.8 1894.8,1042.9 1895.7,1043.3 1896.6,1041.7 1897.5,1043.7 1898.4,1040.0 1899.3,1040.8 1900.2,1040.5 1901.1,1042.7 1902.0,1043.3 1902.9,1041.6 1903.8,1041.4 1904.7,1040.7 1905.6,1043.0 1906.5,1043.6 1907.4,1041.5 1908.3,1041.9 1909.2,1041.7 1910.1,1042.1 1911.0,1042.7 1911.9,1039.4 1912.8,1041.5 1913.7,1043.2 1914.6,1041.1 1915.5,1043.8 1916.4,1043.9 1917.3,1041.0 1918.2,1041.2 1919.1,1043.8 1920.0,1040.2 1920.9,1040.9 1921.8,1040.2 1922.7,1042.2 1923.6,1042.7 1924.5,1042.8 1925.4,1042.6 1926.3,1040.5 1927.2,1043.7 1928.1,1042.1 1929.0,1041.7 1929.9,1044.4 1930.8,1042.4 1931.7,1042.7 1932.6,1043.3 1933.5,1044.7 1934.4,1042.2 1935.3,1043.1 1936.2,1039.3 1937.1,1041.0 1938.0,1044.8 1938.9,1044.7 1939.8,1042.0 1940.7,1041.1 1941.6,1040.5 1942.5,1040.7 1943.4,1041.5 1944.3,1040.1 1945.2,1042.1 1946.1,1042.0 1947.0,1040.7 1947.9,1040.6 1948.8,1040.8 1949.7,1041.6 1950.6,1042.0 1951.5,1042.9 1952.4,1040.1 1953.3,1041.8 1954.2,1042.3 1955.1,1042.6 1956.0,1043.3 1956.9,1041.7 1957.8,1043.8 1958.7,1045.1 1959.6,1042.8 1960.5,1044.2 1961.4,1043.5 1962.3,1042.8 1963.2,1042.0 1964.1,1042.6 1965.0,1044.8 1965.9,1042.4 1966.8,1041.4 1967.7,1041.7 1968.6,1043.3 1969.5,1041.5 1970.4,1043.5 1971.3,1043.2 1972.2,1042.6 1973.1,1044.4 1974.0,1040.7 1974.9,1041.7 1975.8,1042.1 1976.7,1042.8 1977.6,1040.7 1978.5,1041.6 1979.4,1043.9 1980.3,1041.8 1981.2,1043.5 1982.1,1042.0 1983.0,1041.4 1983.9,1043.0 1984.8,1043.9 1985.7,1042.3 1986.6,1040.7 1987.5,1041.3 1988.4,1041.8 1989.3,1042.0 1990.2,1041.1 1991.1,1043.1 1992.0,1041.0 1992.9,1043.5 1993.8,1041.0 1994.7,1041.1 1995.6,1043.7 1996.5,1043.2 1997.4,1041.9 1998.3,1041.6 1999.2,1042.0 2000.1,1042.4 2001.0,1042.6 2001.9,1043.6 2002.8,1041.3 2003.7,1042.3 2004.6,1042.4 2005.5,1040.6 2006.4,1043.7 2007.3,1044.4 2008.2,1042.3 2009.1,1040.1 2010.0,1041.3 2010.9,1043.5 2011.8,1039.8 2012.7,1039.8 2013.6,1041.7 2014.5,1042.9 2015.4,1043.3 2016.3,1043.5 2017.2,1039.4 2018.1,1041.6 2019.0,1041.1 2019.9,1041.1 2020.8,1043.2 2021.7,1042.8 2022.6,1041.4 2023.5,1042.6 2024.4,1042.5 2025.3,1043.8 2026.2,1041.6 2027.1,1043.1 2028.0,1041.4 2028.9,1042.8 2029.8,1042.3 2030.7,1042.6 2031.6,1042.3 2032.5,1044.2 2033.4,1041.5 2034.3,1041.2 2035.2,1041.7 2036.1,1042.9 2037.0,1043.2 2037.9,1042.3 2038.8,1041.6 2039.7,1041.9 2040.6,1041.6 2041.5,1043.0"/>
<polyline fill="none" stroke="#1a1aff" stroke-width="10.8" stroke-linejoin="round" stroke-linecap="butt" clip-path="url(#pc)" points="210.0,1352.3 210.9,1346.8 211.8,1352.1 212.7,1351.4 213.6,1353.3 214.5,1352.6 215.4,1354.7 216.3,1352.9 217.2,1352.7 218.1,1354.4 219.0,1354.6 219.9,1354.1 220.8,1354.6 221.7,1356.2 222.6,1356.6 223.5,1355.6 224.4,1356.1 225.3,1354.8 226.2,1359.4 227.1,1357.6 228.0,1359.9 228.9,1359.2 229.8,1361.4 230.7,1361.4 231.6,1360.4 232.5,1362.2 233.4,1359.7 234.3,1362.8 235.2,1360.0 236.1,1362.6 237.0,1363.9 237.9,1363.4 238.8,1363.2 239.7,1363.2 240.6,1364.2 241.5,1366.4 242.4,1366.8 243.3,1365.9 244.2,1365.3 245.1,1368.1 246.0,1366.1 246.9,1367.7 247.8,1368.0 248.7,1370.3 249.6,1370.2 250.5,1370.9 251.4,1371.2 252.3,1370.5 253.2,1372.5 254.1,1374.0 255.0,1372.7 255.9,1373.9 256.8,1373.4 257.7,1375.1 258.6,1375.0 259.5,1375.6 260.4,1375.3 261.3,1377.1 262.2,1375.0 263.1,1375.3 264.0,1375.3 264.9,1377.0 265.8,1375.8 266.7,1376.0 267.6,1377.9 268.5,1378.7 269.4,1378.2 270.3,1374.5 271.2,1376.8 272.1,1376.9 273.0,1377.0 273.9,1378.2 274.8,1381.1 275.7,1378.7 276.6,1378.4 277.5,1380.3 278.4,1379.8 279.3,1380.0 280.2,1379.3 281.1,1380.3 282.0,1381.0 282.9,1378.4 283.8,1378.9 284.7,1382.3 285.6,1382.2 286.5,1380.8 287.4,1380.3 288.3,1381.5 289.2,1380.5 290.1,1381.7 291.0,1384.2 291.9,1382.6 292.8,1384.0 293.7,1382.5 294.6,1383.4 295.5,1384.8 296.4,1381.7 297.3,1383.0 298.2,1383.4 299.1,1384.1 300.0,1385.8 300.9,1384.9 301.8,1382.4 302.7,1384.1 303.6,1383.5 304.5,1383.6 305.4,1387.3 306.3,1383.8 307.2,1385.5 308.1,1384.5 309.0,1386.6 309.9,1386.1 310.8,1386.0 311.7,1385.9 312.6,1387.5 313.5,1385.2 314.4,1385.6 315.3,1385.3 316.2,1388.4 317.1,1386.5 318.0,1385.8 318.9,1386.7 319.8,1390.3 320.7,1387.4 321.6,1388.7 322.5,1388.3 323.4,1387.9 324.3,1387.2 325.2,1387.8 326.1,1387.9 327.0,1385.9 327.9,1391.8 328.8,1389.9 329.7,1389.1 330.6,1388.8 331.5,1388.3 332.4,1390.5 333.3,1389.3 334.2,1390.2 335.1,1388.1 336.0,1390.3 336.9,1392.4 337.8,1389.8 338.7,1391.3 339.6,1390.5 340.5,1391.9 341.4,1392.0 342.3,1390.9 343.2,1390.3 344.1,1391.4 345.0,1391.3 345.9,1390.6 346.8,1392.0 347.7,1392.1 348.6,1390.7 349.5,1391.7 350.4,1395.5 351.3,1393.1 352.2,1392.4 353.1,1395.4 354.0,1391.9 354.9,1389.6 355.8,1390.4 356.7,1391.0 357.6,1393.3 358.5,1394.3 359.4,1390.6 360.3,1394.7 361.2,1392.0 362.1,1393.9 363.0,1394.3 363.9,1394.3 364.8,1393.9 365.7,1394.3 366.6,1392.8 367.5,1394.6 368.4,1395.6 369.3,1395.6 370.2,1397.8 371.1,1396.1 372.0,1395.7 372.9,1397.0 373.8,1395.4 374.7,1393.7 375.6,1392.6 376.5,1397.0 377.4,1396.2 378.3,1396.7 379.2,1395.4 380.1,1396.3 381.0,1398.3 381.9,1396.5 382.8,1394.9 383.7,1395.8 384.6,1398.1 385.5,1395.2 386.4,1393.5 387.3,1394.0 388.2,1395.3 389.1,1397.9 390.0,1397.2 390.9,1396.3 391.8,1395.7 392.7,1397.3 393.6,1397.3 394.5,1396.9 395.4,1397.4 396.3,1396.9 397.2,1400.1 398.1,1395.2 399.0,1398.3 399.9,1397.0 400.8,1399.2 401.7,1398.1 402.6,1399.0 403.5,1399.3 404.4,1399.0 405.3,1400.0 406.2,1397.3 407.1,1400.2 408.0,1398.9 408.9,1399.7 409.8,1401.2 410.7,1400.8 411.6,1402.0 412.5,1397.0 413.4,1398.6 414.3,1401.0 415.2,1398.6 416.1,1399.9 417.0,1402.2 417.9,1401.3 418.8,1399.2 419.7,1401.0 420.6,1401.4 421.5,1400.8 422.4,1400.7 423.3,1401.1 424.2,1399.2 425.1,1401.3 426.0,1400.1 426.9,1401.8 427.8,1401.9 428.7,1400.4 429.6,1402.3 430.5,1402.1 431.4,1401.8 432.3,1402.8 433.2,1401.6 434.1,1401.8 435.0,1402.3 435.9,1402.2 436.8,1403.8 437.7,1399.6 438.6,1402.2 439.5,1400.3 440.4,1402.1 441.3,1403.1 442.2,1402.9 443.1,1404.2 444.0,1403.5 444.9,1399.9 445.8,1401.9 446.7,1405.2 447.6,1405.3 448.5,1403.7 449.4,1401.8 450.3,1406.3 451.2,1401.3 452.1,1404.2 453.0,1403.9 453.9,1404.3 454.8,1402.7 455.7,1403.7 456.6,1405.5 457.5,1403.7 458.4,1402.7 459.3,1404.4 460.2,1404.6 461.1,1404.4 462.0,1403.7 462.9,1405.4 463.8,1404.6 464.7,1403.4 465.6,1405.2 466.5,1404.9 467.4,1405.2 468.3,1403.0 469.2,1404.2 470.1,1405.7 471.0,1406.3 471.9,1405.7 472.8,1405.5 473.7,1406.2 474.6,1406.5 475.5,1407.5 476.4,1405.9 477.3,1404.7 478.2,1405.9 479.1,1403.0 480.0,1405.4 480.9,1404.7 481.8,1405.2 482.7,1405.7 483.6,1405.0 484.5,1403.0 485.4,1404.1 486.3,1403.2 487.2,1403.7 488.1,1403.7 489.0,1401.4 489.9,1402.6 490.8,1402.3 491.7,1399.3 492.6,1399.1 493.5,1394.9 494.4,1394.4 495.3,1394.4 496.2,1389.2 497.1,1388.8 498.0,1386.6 498.9,1387.6 499.8,1386.7 500.7,1384.2 501.6,1385.4 502.5,1383.0 503.4,1388.6 504.3,1389.8 505.2,1392.9 506.1,1390.4 507.0,1395.6 507.9,1396.6 508.8,1395.6 509.7,1399.4 510.6,1401.4 511.5,1403.6 512.4,1403.8 513.3,1403.7 514.2,1405.5 515.1,1405.4 516.0,1405.2 516.9,1405.1 517.8,1406.8 518.7,1407.1 519.6,1409.3 520.5,1406.8 521.4,1409.4 522.3,1408.0 523.2,1409.2 524.1,1406.8 525.0,1406.9 525.9,1407.7 526.8,1409.2 527.7,1408.5 528.6,1409.2 529.5,1408.8 530.4,1409.7 531.3,1408.8 532.2,1408.0 533.1,1409.3 534.0,1408.9 534.9,1410.9 535.8,1408.7 536.7,1409.0 537.6,1408.6 538.5,1410.4 539.4,1410.1 540.3,1409.9 541.2,1407.7 542.1,1407.4 543.0,1409.6 543.9,1410.2 544.8,1411.1 545.7,1407.2 546.6,1409.2 547.5,1407.4 548.4,1408.3 549.3,1409.3 550.2,1410.7 551.1,1409.0 552.0,1408.8 552.9,1409.3 553.8,1411.2 554.7,1412.6 555.6,1407.9 556.5,1409.5 557.4,1409.3 558.3,1411.3 559.2,1410.4 560.1,1411.8 561.0,1408.7 561.9,1410.0 562.8,1409.5 563.7,1408.7 564.6,1409.9 565.5,1408.7 566.4,1412.7 567.3,1410.7 568.2,1409.0 569.1,1409.5 570.0,1412.3 570.9,1409.7 571.8,1411.1 572.7,1411.0 573.6,1411.6 574.5,1411.1 575.4,1410.1 576.3,1409.7 577.2,1408.3 578.1,1410.4 579.0,1410.6 579.9,1410.1 580.8,1410.3 581.7,1409.1 582.6,1413.2 583.5,1410.0 584.4,1409.4 585.3,1409.9 586.2,1410.4 587.1,1411.6 588.0,1407.8 588.9,1411.3 589.8,1410.0 590.7,1410.5 591.6,1412.0 592.5,1411.7 593.4,1410.0 594.3,1410.7 595.2,1413.1 596.1,1412.5 597.0,1411.9 597.9,1410.9 598.8,1412.1 599.7,1411.4 600.6,1410.3 601.5,1409.8 602.4,1411.6 603.3,1411.5 604.2,1412.5 605.1,1410.5 606.0,1412.8 606.9,1410.6 607.8,1412.6 608.7,1411.8 609.6,1410.4 610.5,1410.0 611.4,1411.0 612.3,1410.9 613.2,1412.3 614.1,1410.4 615.0,1409.5 615.9,1411.2 616.8,1413.6 617.7,1413.2 618.6,1410.5 619.5,1411.0 620.4,1411.7 621.3,1410.5 622.2,1411.1 623.1,1411.0 624.0,1410.1 624.9,1410.7 625.8,1410.8 626.7,1411.7 627.6,1410.0 628.5,1411.6 629.4,1410.3 630.3,1410.5 631.2,1410.1 632.1,1416.3 633.0,1413.0 633.9,1413.1 634.8,1412.5 635.7,1411.3 636.6,1411.6 637.5,1411.9 638.4,1412.1 639.3,1412.3 640.2,1413.4 641.1,1408.1 642.0,1411.0 642.9,1412.4 643.8,1411.2 644.7,1411.5 645.6,1413.4 646.5,1411.9 647.4,1413.8 648.3,1411.6 649.2,1412.0 650.1,1410.4 651.0,1409.3 651.9,1411.2 652.8,1411.8 653.7,1411.3 654.6,1410.1 655.5,1412.5 656.4,1411.8 657.3,1411.8 658.2,1410.8 659.1,1413.7 660.0,1413.5 660.9,1412.1 661.8,1411.6 662.7,1412.1 663.6,1413.8 664.5,1415.2 665.4,1411.8 666.3,1411.3 667.2,1409.6 668.1,1415.1 669.0,1410.5 669.9,1412.8 670.8,1412.4 671.7,1413.4 672.6,1410.7 673.5,1409.8 674.4,1412.0 675.3,1412.3 676.2,1413.1 677.1,1409.7 678.0,1411.2 678.9,1411.4 679.8,1410.1 680.7,1411.5 681.6,1412.7 682.5,1411.7 683.4,1410.0 684.3,1412.1 685.2,1412.7 686.1,1412.3 687.0,1412.6 687.9,1409.7 688.8,1412.2 689.7,1412.3 690.6,1411.1 691.5,1411.5 692.4,1410.6 693.3,1413.0 694.2,1411.2 695.1,1410.4 696.0,1411.7 696.9,1411.6 697.8,1412.2 698.7,1410.4 699.6,1410.5 700.5,1411.8 701.4,1413.9 702.3,1411.8 703.2,1409.5 704.1,1411.3 705.0,1410.1 705.9,1408.8 706.8,1410.1 707.7,1410.2 708.6,1411.3 709.5,1412.4 710.4,1412.1 711.3,1411.6 712.2,1410.0 713.1,1410.6 714.0,1410.3 714.9,1411.9 715.8,1409.3 716.7,1409.3 717.6,1411.7 718.5,1410.4 719.4,1409.1 720.3,1409.6 721.2,1409.4 722.1,1409.3 723.0,1409.8 723.9,1409.1 724.8,1408.2 725.7,1407.5 726.6,1405.8 727.5,1407.0 728.4,1408.6 729.3,1407.1 730.2,1405.7 731.1,1405.7 732.0,1404.4 732.9,1405.3 733.8,1406.7 734.7,1405.7 735.6,1404.2 736.5,1402.7 737.4,1400.4 738.3,1397.9 739.2,1398.0 740.1,1395.7 741.0,1395.3 741.9,1392.2 742.8,1388.6 743.7,1386.7 744.6,1386.1 745.5,1377.3 746.4,1375.1 747.3,1369.2 748.2,1362.5 749.1,1355.3 750.0,1349.5 750.9,1343.0 751.8,1337.1 752.7,1331.2 753.6,1326.2 754.5,1322.5 755.4,1323.3 756.3,1324.3 757.2,1327.6 758.1,1335.4 759.0,1339.9 759.9,1346.1 760.8,1354.4 761.7,1358.5 762.6,1366.7 763.5,1372.8 764.4,1376.6 765.3,1381.7 766.2,1387.7 767.1,1390.1 768.0,1392.3 768.9,1394.3 769.8,1395.1 770.7,1397.3 771.6,1398.7 772.5,1400.3 773.4,1401.6 774.3,1401.4 775.2,1405.2 776.1,1402.7 777.0,1405.1 777.9,1406.5 778.8,1405.7 779.7,1405.4 780.6,1406.7 781.5,1409.3 782.4,1408.1 783.3,1407.3 784.2,1408.6 785.1,1407.9 786.0,1406.2 786.9,1408.9 787.8,1410.1 788.7,1410.4 789.6,1409.1 790.5,1407.6 791.4,1410.9 792.3,1409.4 793.2,1410.5 794.1,1411.1 795.0,1410.3 795.9,1409.9 796.8,1409.2 797.7,1409.5 798.6,1410.2 799.5,1409.6 800.4,1410.6 801.3,1407.9 802.2,1409.1 803.1,1410.3 804.0,1409.5 804.9,1409.7 805.8,1409.0 806.7,1411.1 807.6,1412.3 808.5,1409.1 809.4,1411.7 810.3,1408.5 811.2,1410.4 812.1,1407.8 813.0,1410.7 813.9,1410.1 814.8,1410.2 815.7,1411.4 816.6,1410.6 817.5,1409.8 818.4,1408.8 819.3,1409.7 820.2,1408.7 821.1,1408.9 822.0,1411.1 822.9,1410.3 823.8,1409.4 824.7,1409.7 825.6,1407.0 826.5,1408.7 827.4,1406.4 828.3,1407.4 829.2,1408.4 830.1,1408.2 831.0,1408.3 831.9,1407.4 832.8,1407.0 833.7,1406.6 834.6,1408.0 835.5,1407.5 836.4,1403.8 837.3,1405.2 838.2,1406.2 839.1,1403.8 840.0,1403.8 840.9,1402.2 841.8,1400.8 842.7,1401.7 843.6,1400.3 844.5,1399.7 845.4,1397.2 846.3,1396.4 847.2,1396.5 848.1,1394.7 849.0,1394.4 849.9,1390.7 850.8,1390.8 851.7,1388.3 852.6,1385.0 853.5,1382.4 854.4,1377.5 855.3,1372.6 856.2,1366.9 857.1,1358.2 858.0,1351.0 858.9,1341.5 859.8,1326.0 860.7,1313.9 861.6,1294.9 862.5,1275.2 863.4,1253.2 864.3,1228.6 865.2,1203.3 866.1,1174.0 867.0,1149.4 867.9,1123.2 868.8,1104.6 869.7,1093.2 870.6,1089.2 871.5,1096.0 872.4,1113.2 873.3,1136.0 874.2,1162.0 875.1,1188.0 876.0,1217.7 876.9,1241.2 877.8,1264.3 878.7,1287.8 879.6,1306.5 880.5,1320.1 881.4,1335.9 882.3,1344.9 883.2,1356.1 884.1,1366.6 885.0,1371.9 885.9,1376.5 886.8,1380.8 887.7,1382.6 888.6,1387.0 889.5,1389.7 890.4,1390.0 891.3,1393.3 892.2,1395.3 893.1,1396.2 894.0,1397.6 894.9,1397.7 895.8,1397.3 896.7,1399.1 897.6,1396.8 898.5,1398.0 899.4,1399.5 900.3,1399.3 901.2,1396.2 902.1,1391.2 903.0,1393.9 903.9,1391.6 904.8,1390.0 905.7,1391.5 906.6,1392.7 907.5,1392.8 908.4,1395.2 909.3,1400.6 910.2,1398.9 911.1,1404.4 912.0,1405.8 912.9,1407.9 913.8,1409.9 914.7,1410.1 915.6,1411.0 916.5,1410.6 917.4,1410.6 918.3,1411.6 919.2,1410.6 920.1,1409.8 921.0,1411.0 921.9,1409.4 922.8,1410.8 923.7,1414.1 924.6,1412.4 925.5,1411.7 926.4,1411.4 927.3,1410.1 928.2,1411.7 929.1,1411.5 930.0,1412.6 930.9,1412.8 931.8,1412.7 932.7,1410.6 933.6,1414.7 934.5,1413.6 935.4,1413.1 936.3,1412.8 937.2,1413.8 938.1,1414.9 939.0,1414.2 939.9,1412.1 940.8,1412.1 941.7,1410.8 942.6,1413.8 943.5,1414.6 944.4,1415.2 945.3,1414.0 946.2,1414.9 947.1,1412.8 948.0,1414.6 948.9,1413.9 949.8,1413.3 950.7,1412.1 951.6,1415.5 952.5,1411.5 953.4,1415.0 954.3,1413.3 955.2,1415.0 956.1,1413.7 957.0,1415.3 957.9,1414.1 958.8,1413.2 959.7,1413.8 960.6,1412.6 961.5,1414.9 962.4,1415.8 963.3,1415.1 964.2,1414.7 965.1,1416.2 966.0,1413.3 966.9,1415.3 967.8,1414.7 968.7,1414.2 969.6,1415.4 970.5,1413.4 971.4,1414.6 972.3,1415.2 973.2,1413.4 974.1,1414.5 975.0,1415.5 975.9,1416.0 976.8,1413.7 977.7,1415.9 978.6,1414.5 979.5,1415.0 980.4,1414.2 981.3,1415.8 982.2,1414.0 983.1,1415.2 984.0,1415.3 984.9,1415.8 985.8,1413.6 986.7,1415.8 987.6,1414.9 988.5,1416.6 989.4,1414.4 990.3,1414.1 991.2,1414.7 992.1,1414.4 993.0,1414.5 993.9,1413.2 994.8,1412.1 995.7,1412.8 996.6,1413.8 997.5,1415.0 998.4,1414.1 999.3,1413.2 1000.2,1414.1 1001.1,1414.3 1002.0,1417.4 1002.9,1415.6 1003.8,1414.1 1004.7,1412.0 1005.6,1413.4 1006.5,1413.1 1007.4,1414.0 1008.3,1415.7 1009.2,1412.9 1010.1,1410.4 1011.0,1412.3 1011.9,1410.2 1012.8,1412.9 1013.7,1412.9 1014.6,1411.5 1015.5,1408.9 1016.4,1409.9 1017.3,1411.0 1018.2,1407.6 1019.1,1407.3 1020.0,1407.3 1020.9,1406.5 1021.8,1404.6 1022.7,1403.2 1023.6,1401.0 1024.5,1397.7 1025.4,1395.4 1026.3,1392.4 1027.2,1386.7 1028.1,1383.6 1029.0,1378.2 1029.9,1372.6 1030.8,1366.1 1031.7,1357.8 1032.6,1351.3 1033.5,1347.9 1034.4,1344.0 1035.3,1343.3 1036.2,1344.1 1037.1,1347.2 1038.0,1354.6 1038.9,1360.5 1039.8,1368.1 1040.7,1375.0 1041.6,1380.9 1042.5,1386.0 1043.4,1388.2 1044.3,1390.7 1045.2,1395.9 1046.1,1398.0 1047.0,1400.2 1047.9,1404.5 1048.8,1403.5 1049.7,1407.9 1050.6,1409.2 1051.5,1412.1 1052.4,1411.0 1053.3,1413.0 1054.2,1410.3 1055.1,1410.8 1056.0,1413.3 1056.9,1411.0 1057.8,1414.3 1058.7,1413.0 1059.6,1411.2 1060.5,1416.1 1061.4,1412.8 1062.3,1417.4 1063.2,1412.8 1064.1,1413.8 1065.0,1415.2 1065.9,1415.2 1066.8,1413.4 1067.7,1415.6 1068.6,1415.8 1069.5,1416.3 1070.4,1413.9 1071.3,1415.2 1072.2,1415.9 1073.1,1417.1 1074.0,1416.4 1074.9,1415.9 1075.8,1415.9 1076.7,1418.2 1077.6,1415.5 1078.5,1417.0 1079.4,1414.1 1080.3,1418.8 1081.2,1417.3 1082.1,1414.7 1083.0,1417.6 1083.9,1418.6 1084.8,1418.0 1085.7,1417.1 1086.6,1418.1 1087.5,1416.2 1088.4,1416.8 1089.3,1416.7 1090.2,1417.3 1091.1,1416.0 1092.0,1418.9 1092.9,1417.1 1093.8,1416.0 1094.7,1417.1 1095.6,1417.8 1096.5,1417.4 1097.4,1418.7 1098.3,1417.0 1099.2,1416.5 1100.1,1418.1 1101.0,1419.0 1101.9,1416.3 1102.8,1415.6 1103.7,1416.8 1104.6,1417.5 1105.5,1416.3 1106.4,1417.8 1107.3,1416.6 1108.2,1418.7 1109.1,1416.2 1110.0,1416.5 1110.9,1417.7 1111.8,1418.5 1112.7,1418.8 1113.6,1416.8 1114.5,1417.7 1115.4,1418.3 1116.3,1419.4 1117.2,1416.6 1118.1,1416.2 1119.0,1418.3 1119.9,1417.4 1120.8,1419.4 1121.7,1417.8 1122.6,1418.1 1123.5,1416.8 1124.4,1418.1 1125.3,1419.2 1126.2,1417.5 1127.1,1416.4 1128.0,1418.9 1128.9,1417.4 1129.8,1417.9 1130.7,1416.9 1131.6,1418.9 1132.5,1416.9 1133.4,1417.2 1134.3,1417.8 1135.2,1417.6 1136.1,1415.1 1137.0,1418.4 1137.9,1416.4 1138.8,1418.2 1139.7,1417.4 1140.6,1417.7 1141.5,1417.0 1142.4,1416.6 1143.3,1418.0 1144.2,1418.1 1145.1,1419.1 1146.0,1418.5 1146.9,1417.0 1147.8,1419.3 1148.7,1420.5 1149.6,1418.7 1150.5,1417.6 1151.4,1416.7 1152.3,1418.0 1153.2,1416.1 1154.1,1418.8 1155.0,1417.4 1155.9,1417.2 1156.8,1418.2 1157.7,1416.4 1158.6,1415.8 1159.5,1417.3 1160.4,1419.3 1161.3,1416.8 1162.2,1418.9 1163.1,1415.7 1164.0,1417.8 1164.9,1418.5 1165.8,1420.0 1166.7,1415.7 1167.6,1417.8 1168.5,1416.8 1169.4,1418.2 1170.3,1417.2 1171.2,1418.0 1172.1,1416.9 1173.0,1417.2 1173.9,1418.3 1174.8,1419.6 1175.7,1418.1 1176.6,1418.0 1177.5,1417.3 1178.4,1419.7 1179.3,1415.5 1180.2,1415.4 1181.1,1416.9 1182.0,1418.3 1182.9,1418.9 1183.8,1418.5 1184.7,1418.7 1185.6,1418.0 1186.5,1417.2 1187.4,1416.5 1188.3,1418.3 1189.2,1416.6 1190.1,1418.3 1191.0,1418.6 1191.9,1417.0 1192.8,1417.2 1193.7,1417.1 1194.6,1418.5 1195.5,1417.9 1196.4,1416.9 1197.3,1418.0 1198.2,1419.5 1199.1,1418.0 1200.0,1417.8 1200.9,1417.1 1201.8,1416.5 1202.7,1417.6 1203.6,1417.7 1204.5,1417.2 1205.4,1419.0 1206.3,1417.3 1207.2,1417.3 1208.1,1417.7 1209.0,1418.1 1209.9,1415.3 1210.8,1417.7 1211.7,1418.9 1212.6,1416.1 1213.5,1417.8 1214.4,1416.7 1215.3,1416.1 1216.2,1417.6 1217.1,1417.1 1218.0,1414.7 1218.9,1416.5 1219.8,1418.1 1220.7,1416.4 1221.6,1416.2 1222.5,1416.6 1223.4,1416.4 1224.3,1417.8 1225.2,1415.8 1226.1,1415.4 1227.0,1417.2 1227.9,1417.8 1228.8,1417.4 1229.7,1417.5 1230.6,1415.6 1231.5,1414.5 1232.4,1415.3 1233.3,1416.0 1234.2,1413.9 1235.1,1415.4 1236.0,1416.3 1236.9,1414.6 1237.8,1417.6 1238.7,1415.9 1239.6,1413.2 1240.5,1413.0 1241.4,1413.1 1242.3,1414.4 1243.2,1413.6 1244.1,1411.7 1245.0,1411.9 1245.9,1411.8 1246.8,1410.6 1247.7,1406.9 1248.6,1406.3 1249.5,1405.1 1250.4,1402.6 1251.3,1404.0 1252.2,1400.4 1253.1,1398.5 1254.0,1396.2 1254.9,1395.6 1255.8,1393.9 1256.7,1392.2 1257.6,1391.4 1258.5,1387.7 1259.4,1390.1 1260.3,1391.1 1261.2,1388.0 1262.1,1389.3 1263.0,1391.9 1263.9,1394.4 1264.8,1394.6 1265.7,1395.9 1266.6,1401.3 1267.5,1400.2 1268.4,1399.3 1269.3,1404.9 1270.2,1406.9 1271.1,1409.1 1272.0,1410.4 1272.9,1413.1 1273.8,1409.6 1274.7,1409.9 1275.6,1410.0 1276.5,1414.4 1277.4,1412.3 1278.3,1411.2 1279.2,1411.1 1280.1,1414.0 1281.0,1413.6 1281.9,1414.6 1282.8,1413.4 1283.7,1413.7 1284.6,1415.2 1285.5,1414.5 1286.4,1415.5 1287.3,1414.7 1288.2,1414.6 1289.1,1415.4 1290.0,1414.6 1290.9,1415.2 1291.8,1415.5 1292.7,1414.3 1293.6,1414.8 1294.5,1415.0 1295.4,1415.6 1296.3,1415.0 1297.2,1415.0 1298.1,1415.2 1299.0,1414.1 1299.9,1414.8 1300.8,1413.4 1301.7,1412.0 1302.6,1414.5 1303.5,1411.5 1304.4,1413.5 1305.3,1415.3 1306.2,1414.1 1307.1,1411.7 1308.0,1413.6 1308.9,1412.6 1309.8,1411.0 1310.7,1411.5 1311.6,1410.5 1312.5,1410.2 1313.4,1410.4 1314.3,1407.4 1315.2,1409.4 1316.1,1409.7 1317.0,1405.9 1317.9,1403.5 1318.8,1402.4 1319.7,1402.3 1320.6,1397.8 1321.5,1396.1 1322.4,1394.9 1323.3,1387.4 1324.2,1384.1 1325.1,1378.3 1326.0,1373.2 1326.9,1367.8 1327.8,1360.4 1328.7,1355.3 1329.6,1348.2 1330.5,1342.9 1331.4,1336.3 1332.3,1330.9 1333.2,1328.5 1334.1,1324.4 1335.0,1325.3 1335.9,1325.6 1336.8,1331.6 1337.7,1334.0 1338.6,1341.9 1339.5,1346.4 1340.4,1354.2 1341.3,1359.3 1342.2,1366.0 1343.1,1371.8 1344.0,1378.9 1344.9,1384.0 1345.8,1388.7 1346.7,1392.2 1347.6,1394.8 1348.5,1398.8 1349.4,1402.4 1350.3,1402.2 1351.2,1403.5 1352.1,1406.6 1353.0,1409.6 1353.9,1408.1 1354.8,1408.7 1355.7,1408.6 1356.6,1409.6 1357.5,1409.9 1358.4,1410.3 1359.3,1413.2 1360.2,1413.8 1361.1,1412.7 1362.0,1413.0 1362.9,1414.1 1363.8,1413.4 1364.7,1413.7 1365.6,1414.5 1366.5,1413.9 1367.4,1415.7 1368.3,1418.2 1369.2,1414.4 1370.1,1414.9 1371.0,1413.7 1371.9,1414.3 1372.8,1415.0 1373.7,1415.5 1374.6,1414.8 1375.5,1413.7 1376.4,1415.7 1377.3,1414.6 1378.2,1415.8 1379.1,1415.1 1380.0,1415.3 1380.9,1415.4 1381.8,1413.0 1382.7,1417.0 1383.6,1414.5 1384.5,1416.0 1385.4,1416.3 1386.3,1414.9 1387.2,1414.0 1388.1,1416.3 1389.0,1414.5 1389.9,1415.6 1390.8,1416.2 1391.7,1415.1 1392.6,1413.6 1393.5,1414.8 1394.4,1416.2 1395.3,1414.6 1396.2,1416.6 1397.1,1413.7 1398.0,1414.4 1398.9,1413.4 1399.8,1414.4 1400.7,1417.3 1401.6,1416.1 1402.5,1415.1 1403.4,1414.6 1404.3,1416.7 1405.2,1415.1 1406.1,1414.0 1407.0,1417.0 1407.9,1413.5 1408.8,1415.3 1409.7,1415.7 1410.6,1416.1 1411.5,1417.2 1412.4,1415.8 1413.3,1413.9 1414.2,1416.0 1415.1,1414.9 1416.0,1413.0 1416.9,1413.0 1417.8,1413.2 1418.7,1411.5 1419.6,1414.5 1420.5,1414.5 1421.4,1414.2 1422.3,1412.5 1423.2,1413.3 1424.1,1414.6 1425.0,1413.4 1425.9,1412.6 1426.8,1411.6 1427.7,1412.2 1428.6,1413.5 1429.5,1411.7 1430.4,1414.1 1431.3,1413.8 1432.2,1411.3 1433.1,1408.0 1434.0,1409.0 1434.9,1410.1 1435.8,1407.0 1436.7,1405.8 1437.6,1405.4 1438.5,1406.9 1439.4,1401.2 1440.3,1397.0 1441.2,1396.7 1442.1,1393.3 1443.0,1389.5 1443.9,1383.6 1444.8,1378.1 1445.7,1370.3 1446.6,1364.4 1447.5,1354.8 1448.4,1346.2 1449.3,1334.8 1450.2,1327.1 1451.1,1315.2 1452.0,1304.2 1452.9,1295.2 1453.8,1285.5 1454.7,1279.4 1455.6,1276.8 1456.5,1274.8 1457.4,1276.2 1458.3,1279.8 1459.2,1284.8 1460.1,1293.3 1461.0,1304.7 1461.9,1312.4 1462.8,1321.2 1463.7,1333.3 1464.6,1342.8 1465.5,1352.6 1466.4,1361.4 1467.3,1367.9 1468.2,1376.6 1469.1,1381.9 1470.0,1388.0 1470.9,1390.9 1471.8,1394.3 1472.7,1398.0 1473.6,1403.0 1474.5,1400.9 1475.4,1406.1 1476.3,1406.1 1477.2,1408.6 1478.1,1407.7 1479.0,1409.3 1479.9,1409.9 1480.8,1412.6 1481.7,1410.4 1482.6,1411.2 1483.5,1410.3 1484.4,1411.9 1485.3,1411.0 1486.2,1412.0 1487.1,1412.8 1488.0,1413.2 1488.9,1411.7 1489.8,1411.9 1490.7,1414.5 1491.6,1412.6 1492.5,1413.6 1493.4,1413.2 1494.3,1411.8 1495.2,1413.6 1496.1,1413.7 1497.0,1416.1 1497.9,1411.8 1498.8,1413.6 1499.7,1415.0 1500.6,1413.7 1501.5,1411.9 1502.4,1415.2 1503.3,1414.8 1504.2,1413.6 1505.1,1413.5 1506.0,1413.9 1506.9,1415.1 1507.8,1414.7 1508.7,1414.1 1509.6,1415.4 1510.5,1416.3 1511.4,1414.4 1512.3,1417.0 1513.2,1415.2 1514.1,1415.9 1515.0,1415.7 1515.9,1415.9 1516.8,1415.6 1517.7,1412.7 1518.6,1414.3 1519.5,1416.5 1520.4,1414.2 1521.3,1415.6 1522.2,1413.7 1523.1,1414.8 1524.0,1417.4 1524.9,1415.9 1525.8,1414.6 1526.7,1414.9 1527.6,1413.7 1528.5,1416.3 1529.4,1415.4 1530.3,1416.6 1531.2,1416.7 1532.1,1415.5 1533.0,1414.7 1533.9,1414.4 1534.8,1415.4 1535.7,1415.9 1536.6,1417.6 1537.5,1414.8 1538.4,1416.5 1539.3,1414.7 1540.2,1415.3 1541.1,1417.0 1542.0,1416.7 1542.9,1415.4 1543.8,1415.3 1544.7,1417.4 1545.6,1415.9 1546.5,1415.8 1547.4,1414.9 1548.3,1419.2 1549.2,1418.4 1550.1,1416.9 1551.0,1419.0 1551.9,1416.9 1552.8,1416.0 1553.7,1417.0 1554.6,1418.1 1555.5,1415.1 1556.4,1418.0 1557.3,1417.9 1558.2,1418.3 1559.1,1417.1 1560.0,1417.9 1560.9,1414.6 1561.8,1416.6 1562.7,1417.9 1563.6,1417.4 1564.5,1417.0 1565.4,1415.3 1566.3,1416.6 1567.2,1414.7 1568.1,1416.5 1569.0,1417.2 1569.9,1416.2 1570.8,1417.4 1571.7,1416.9 1572.6,1418.0 1573.5,1416.5 1574.4,1415.0 1575.3,1415.5 1576.2,1416.1 1577.1,1417.0 1578.0,1417.2 1578.9,1416.2 1579.8,1417.2 1580.7,1416.3 1581.6,1417.9 1582.5,1415.5 1583.4,1418.6 1584.3,1417.5 1585.2,1416.7 1586.1,1415.9 1587.0,1417.9 1587.9,1416.6 1588.8,1418.1 1589.7,1419.5 1590.6,1417.5 1591.5,1417.6 1592.4,1418.0 1593.3,1416.8 1594.2,1419.7 1595.1,1417.2 1596.0,1418.3 1596.9,1417.9 1597.8,1416.8 1598.7,1419.2 1599.6,1418.0 1600.5,1416.8 1601.4,1416.8 1602.3,1415.3 1603.2,1416.3 1604.1,1418.6 1605.0,1418.6 1605.9,1416.5 1606.8,1418.4 1607.7,1418.8 1608.6,1418.5 1609.5,1419.1 1610.4,1415.3 1611.3,1417.8 1612.2,1416.4 1613.1,1418.3 1614.0,1416.6 1614.9,1417.5 1615.8,1418.4 1616.7,1415.4 1617.6,1416.4 1618.5,1416.2 1619.4,1416.9 1620.3,1414.9 1621.2,1417.5 1622.1,1418.6 1623.0,1415.7 1623.9,1416.4 1624.8,1412.3 1625.7,1413.6 1626.6,1415.4 1627.5,1414.5 1628.4,1414.4 1629.3,1414.7 1630.2,1412.7 1631.1,1411.7 1632.0,1410.9 1632.9,1411.1 1633.8,1408.0 1634.7,1411.9 1635.6,1407.4 1636.5,1408.0 1637.4,1410.1 1638.3,1411.4 1639.2,1411.3 1640.1,1412.9 1641.0,1411.1 1641.9,1411.4 1642.8,1413.4 1643.7,1412.0 1644.6,1414.1 1645.5,1415.0 1646.4,1415.2 1647.3,1412.8 1648.2,1415.4 1649.1,1413.6 1650.0,1417.3 1650.9,1416.0 1651.8,1418.0 1652.7,1418.6 1653.6,1415.5 1654.5,1418.4 1655.4,1417.9 1656.3,1419.3 1657.2,1416.1 1658.1,1416.1 1659.0,1416.8 1659.9,1415.6 1660.8,1417.9 1661.7,1417.0 1662.6,1418.1 1663.5,1418.3 1664.4,1418.9 1665.3,1416.3 1666.2,1418.7 1667.1,1418.7 1668.0,1416.7 1668.9,1417.1 1669.8,1416.1 1670.7,1419.3 1671.6,1419.4 1672.5,1416.7 1673.4,1417.5 1674.3,1418.1 1675.2,1418.4 1676.1,1417.4 1677.0,1419.4 1677.9,1416.2 1678.8,1418.2 1679.7,1417.2 1680.6,1417.3 1681.5,1415.8 1682.4,1414.4 1683.3,1415.6 1684.2,1416.5 1685.1,1414.6 1686.0,1413.2 1686.9,1414.5 1687.8,1414.1 1688.7,1412.3 1689.6,1412.7 1690.5,1412.5 1691.4,1411.3 1692.3,1411.2 1693.2,1410.4 1694.1,1407.8 1695.0,1405.7 1695.9,1403.3 1696.8,1405.3 1697.7,1403.2 1698.6,1402.7 1699.5,1399.4 1700.4,1399.5 1701.3,1397.7 1702.2,1397.0 1703.1,1396.2 1704.0,1397.7 1704.9,1399.0 1705.8,1400.0 1706.7,1400.1 1707.6,1400.5 1708.5,1404.3 1709.4,1404.7 1710.3,1405.2 1711.2,1405.1 1712.1,1407.3 1713.0,1405.7 1713.9,1405.8 1714.8,1408.6 1715.7,1408.5 1716.6,1409.9 1717.5,1407.9 1718.4,1409.4 1719.3,1407.8 1720.2,1408.6 1721.1,1409.5 1722.0,1408.7 1722.9,1407.5 1723.8,1406.8 1724.7,1408.0 1725.6,1407.3 1726.5,1406.7 1727.4,1408.7 1728.3,1407.8 1729.2,1410.7 1730.1,1412.0 1731.0,1411.3 1731.9,1413.9 1732.8,1409.6 1733.7,1409.5 1734.6,1412.0 1735.5,1410.6 1736.4,1413.4 1737.3,1414.8 1738.2,1415.1 1739.1,1415.8 1740.0,1414.8 1740.9,1415.4 1741.8,1416.1 1742.7,1416.0 1743.6,1417.5 1744.5,1416.2 1745.4,1416.8 1746.3,1416.3 1747.2,1418.4 1748.1,1417.6 1749.0,1417.7 1749.9,1417.1 1750.8,1415.7 1751.7,1417.4 1752.6,1415.4 1753.5,1418.0 1754.4,1416.7 1755.3,1419.7 1756.2,1417.5 1757.1,1418.2 1758.0,1417.8 1758.9,1417.0 1759.8,1416.6 1760.7,1415.5 1761.6,1417.7 1762.5,1416.1 1763.4,1419.9 1764.3,1417.0 1765.2,1417.9 1766.1,1418.6 1767.0,1418.4 1767.9,1420.0 1768.8,1418.6 1769.7,1418.1 1770.6,1418.6 1771.5,1420.5 1772.4,1419.7 1773.3,1416.4 1774.2,1418.5 1775.1,1417.7 1776.0,1418.8 1776.9,1419.5 1777.8,1418.8 1778.7,1419.5 1779.6,1420.8 1780.5,1416.7 1781.4,1418.7 1782.3,1418.8 1783.2,1419.3 1784.1,1418.9 1785.0,1419.9 1785.9,1418.7 1786.8,1419.3 1787.7,1416.9 1788.6,1419.0 1789.5,1417.3 1790.4,1419.4 1791.3,1420.8 1792.2,1418.6 1793.1,1419.1 1794.0,1419.5 1794.9,1420.2 1795.8,1419.4 1796.7,1419.9 1797.6,1417.7 1798.5,1418.1 1799.4,1416.3 1800.3,1420.5 1801.2,1416.2 1802.1,1418.5 1803.0,1417.3 1803.9,1416.8 1804.8,1414.9 1805.7,1415.7 1806.6,1415.3 1807.5,1415.2 1808.4,1413.7 1809.3,1413.8 1810.2,1411.9 1811.1,1414.0 1812.0,1411.5 1812.9,1416.5 1813.8,1412.0 1814.7,1411.9 1815.6,1413.3 1816.5,1413.5 1817.4,1415.5 1818.3,1416.2 1819.2,1414.6 1820.1,1415.1 1821.0,1415.5 1821.9,1417.4 1822.8,1418.4 1823.7,1418.3 1824.6,1417.6 1825.5,1418.1 1826.4,1419.0 1827.3,1419.8 1828.2,1418.4 1829.1,1420.0 1830.0,1418.2 1830.9,1418.9 1831.8,1420.1 1832.7,1417.8 1833.6,1416.8 1834.5,1417.6 1835.4,1418.7 1836.3,1417.7 1837.2,1418.8 1838.1,1420.6 1839.0,1418.6 1839.9,1420.6 1840.8,1420.0 1841.7,1417.8 1842.6,1420.2 1843.5,1420.1 1844.4,1420.2 1845.3,1419.3 1846.2,1419.4 1847.1,1418.4 1848.0,1418.0 1848.9,1419.0 1849.8,1419.9 1850.7,1418.4 1851.6,1421.1 1852.5,1418.6 1853.4,1419.5 1854.3,1417.5 1855.2,1421.0 1856.1,1420.0 1857.0,1420.7 1857.9,1417.7 1858.8,1420.9 1859.7,1419.8 1860.6,1418.5 1861.5,1418.7 1862.4,1417.4 1863.3,1419.0 1864.2,1420.3 1865.1,1418.2 1866.0,1419.7 1866.9,1417.8 1867.8,1416.0 1868.7,1419.0 1869.6,1421.0 1870.5,1420.6 1871.4,1418.4 1872.3,1420.7 1873.2,1420.4 1874.1,1419.6 1875.0,1418.8 1875.9,1420.4 1876.8,1419.1 1877.7,1418.7 1878.6,1420.4 1879.5,1418.3 1880.4,1420.0 1881.3,1420.9 1882.2,1418.3 1883.1,1419.3 1884.0,1419.8 1884.9,1417.0 1885.8,1418.5 1886.7,1418.4 1887.6,1418.5 1888.5,1418.1 1889.4,1420.6 1890.3,1418.0 1891.2,1419.0 1892.1,1419.8 1893.0,1420.9 1893.9,1417.1 1894.8,1417.5 1895.7,1417.8 1896.6,1418.7 1897.5,1420.2 1898.4,1418.9 1899.3,1419.2 1900.2,1420.9 1901.1,1418.7 1902.0,1419.2 1902.9,1421.4 1903.8,1420.0 1904.7,1418.3 1905.6,1418.3 1906.5,1420.4 1907.4,1417.7 1908.3,1418.0 1909.2,1420.0 1910.1,1420.6 1911.0,1421.0 1911.9,1417.8 1912.8,1419.6 1913.7,1415.0 1914.6,1418.0 1915.5,1422.5 1916.4,1420.9 1917.3,1419.9 1918.2,1417.9 1919.1,1417.5 1920.0,1420.3 1920.9,1418.8 1921.8,1418.0 1922.7,1419.9 1923.6,1419.8 1924.5,1418.1 1925.4,1418.4 1926.3,1421.6 1927.2,1417.8 1928.1,1420.2 1929.0,1418.1 1929.9,1417.9 1930.8,1417.7 1931.7,1418.8 1932.6,1418.9 1933.5,1419.8 1934.4,1418.0 1935.3,1419.4 1936.2,1418.2 1937.1,1418.0 1938.0,1419.6 1938.9,1419.4 1939.8,1417.0 1940.7,1419.0 1941.6,1416.6 1942.5,1417.5 1943.4,1420.7 1944.3,1420.3 1945.2,1418.5 1946.1,1419.4 1947.0,1420.2 1947.9,1420.7 1948.8,1420.7 1949.7,1417.6 1950.6,1418.5 1951.5,1418.6 1952.4,1415.6 1953.3,1417.5 1954.2,1418.9 1955.1,1418.1 1956.0,1417.6 1956.9,1416.8 1957.8,1417.5 1958.7,1418.1 1959.6,1417.7 1960.5,1419.4 1961.4,1418.9 1962.3,1416.3 1963.2,1418.8 1964.1,1417.6 1965.0,1418.3 1965.9,1416.4 1966.8,1418.1 1967.7,1415.9 1968.6,1417.7 1969.5,1416.1 1970.4,1415.4 1971.3,1413.8 1972.2,1413.0 1973.1,1415.4 1974.0,1412.5 1974.9,1411.9 1975.8,1413.2 1976.7,1412.1 1977.6,1412.2 1978.5,1409.4 1979.4,1408.0 1980.3,1409.1 1981.2,1411.2 1982.1,1409.9 1983.0,1410.5 1983.9,1410.9 1984.8,1410.8 1985.7,1411.3 1986.6,1411.3 1987.5,1412.4 1988.4,1413.1 1989.3,1412.5 1990.2,1414.5 1991.1,1414.3 1992.0,1414.6 1992.9,1414.9 1993.8,1416.6 1994.7,1415.6 1995.6,1417.5 1996.5,1415.1 1997.4,1417.2 1998.3,1414.9 1999.2,1416.9 2000.1,1416.4 2001.0,1416.5 2001.9,1415.9 2002.8,1417.1 2003.7,1417.8 2004.6,1415.0 2005.5,1417.1 2006.4,1417.4 2007.3,1417.9 2008.2,1417.6 2009.1,1415.9 2010.0,1418.3 2010.9,1416.0 2011.8,1417.6 2012.7,1417.1 2013.6,1416.1 2014.5,1415.6 2015.4,1416.3 2016.3,1418.1 2017.2,1417.0 2018.1,1415.3 2019.0,1416.6 2019.9,1417.5 2020.8,1417.7 2021.7,1412.7 2022.6,1415.2 2023.5,1414.8 2024.4,1412.3 2025.3,1410.4 2026.2,1413.4 2027.1,1410.6 2028.0,1408.4 2028.9,1408.1 2029.8,1409.2 2030.7,1409.9 2031.6,1407.2 2032.5,1403.9 2033.4,1405.2 2034.3,1400.1 2035.2,1402.2 2036.1,1400.7 2037.0,1400.4 2037.9,1398.1 2038.8,1397.0 2039.7,1394.6 2040.6,1392.9 2041.5,1392.4"/>
<polygon points="1113.3,142.6 1152.9,142.6 1133.1,176.9" fill="#ff0606"/>
<polygon points="1610.7,139.3 1650.3,139.3 1630.5,173.6" fill="#1a1aff"/>
<text transform="translate(500.37 1575.20) scale(1.0296 1.0407)" font-size="61.5">20</text>
<text transform="translate(931.66 1575.09) scale(1.0145 1.0459)" font-size="61.5">40</text>
<text transform="translate(1363.46 1575.19) scale(0.9870 1.0347)" font-size="61.5">60</text>
<text transform="translate(1794.10 1575.16) scale(1.0014 1.0335)" font-size="61.5">80</text>
<text transform="translate(911.82 1684.36) scale(0.9999 1.0031)" font-size="76.5" font-weight="bold">2theta (deg)</text>
<text transform="translate(98.52 1125.09) rotate(-90) scale(0.9977 1.0034)" font-size="76.5" font-weight="bold">Intensity (arb. units)</text>
<text transform="translate(1193.00 137.36) scale(0.9834 0.9701)" font-size="58">Hydrotalcite</text>
<text transform="translate(1193.20 202.29) scale(0.9868 1.0424)" font-size="58">#89-0460</text>
<text transform="translate(1690.00 125.37) scale(0.9941 1.0073)" font-size="58">Fe<tspan font-size="42" dy="19">3</tspan><tspan dy="-19">O</tspan><tspan font-size="42" dy="19">4</tspan></text>
<text transform="translate(1689.42 206.18) scale(0.9930 1.0664)" font-size="58">#89-0950</text>
<text transform="translate(1828.50 541.37) scale(0.9819 0.9833)" font-size="106" font-weight="bold">(c)</text>
<text transform="translate(1828.45 996.57) scale(0.9742 0.9833)" font-size="106" font-weight="bold">(b)</text>
<text transform="translate(1828.44 1369.41) scale(0.9859 0.9953)" font-size="106" font-weight="bold">(a)</text>
</svg></body></html>
